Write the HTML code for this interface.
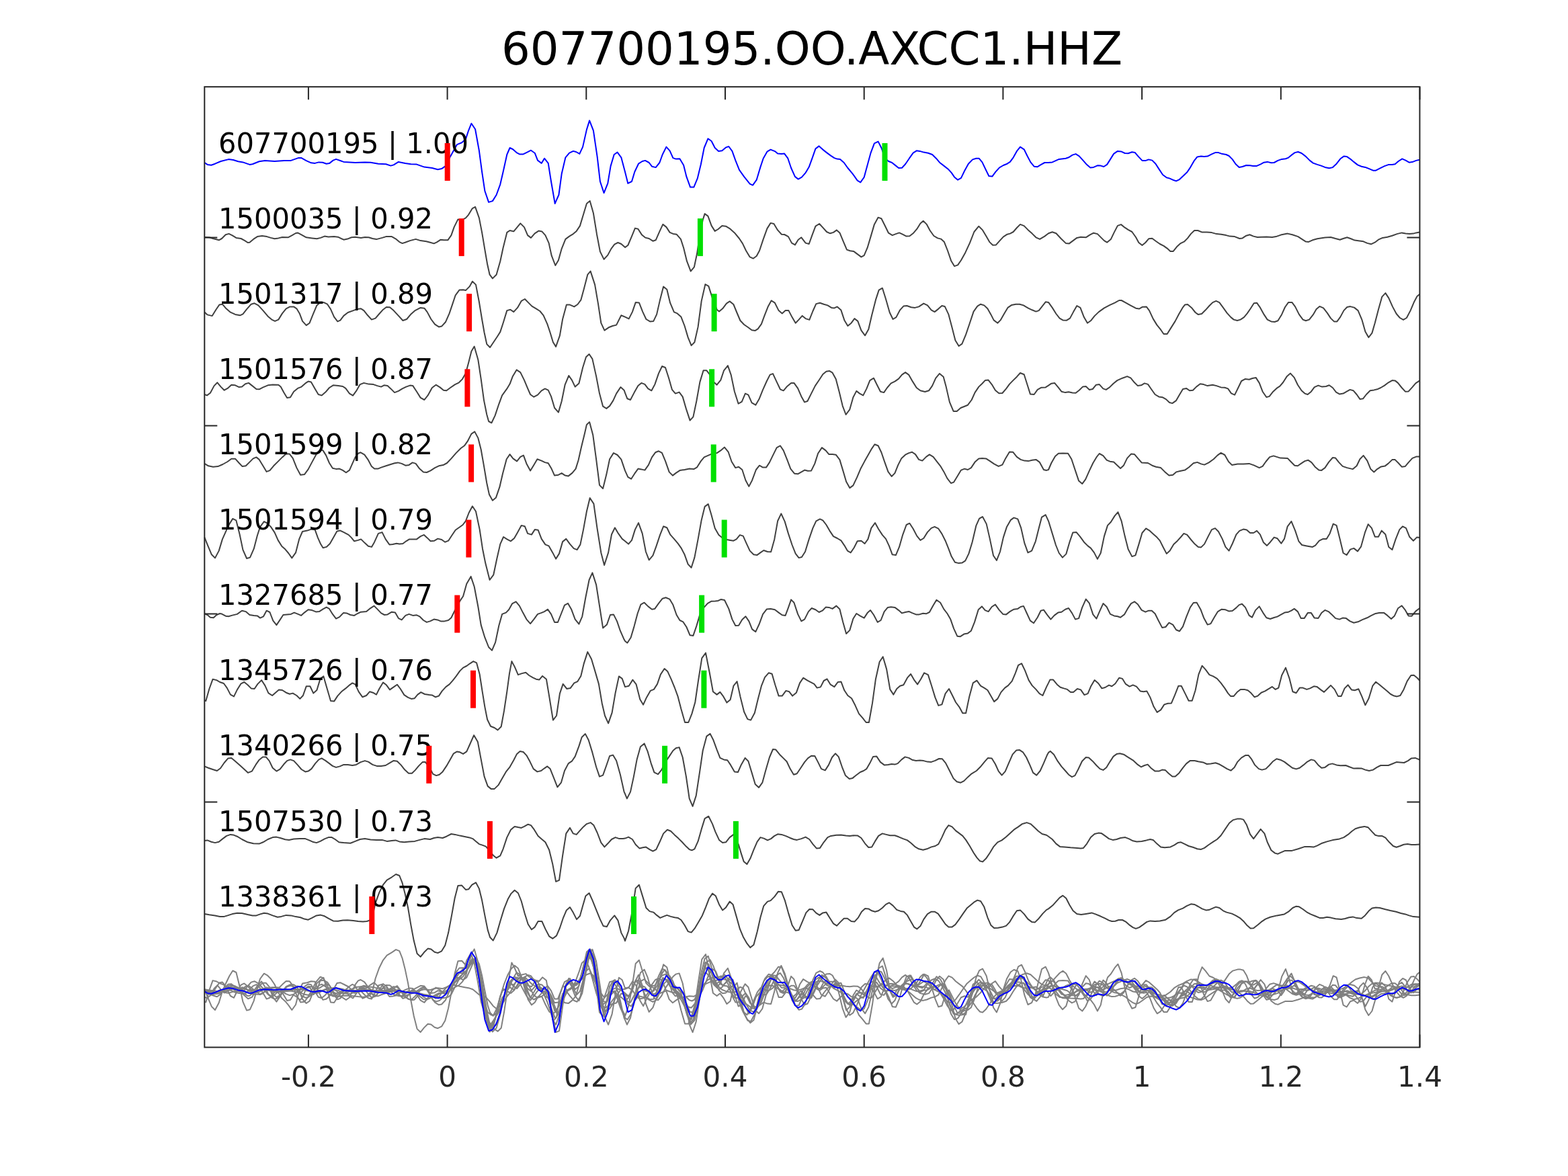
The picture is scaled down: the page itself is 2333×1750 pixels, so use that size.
<!DOCTYPE html>
<html><head><meta charset="utf-8"><style>
html,body{margin:0;padding:0;background:#fff;width:2333px;height:1750px;overflow:hidden}
svg{display:block;font-family:"DejaVu Sans","Liberation Sans",sans-serif}
</style></head><body>
<svg width="2333" height="1750" viewBox="0 0 2333 1750">
<rect width="2333" height="1750" fill="#fff"/>
<text x="1208" y="96.2" text-anchor="middle" font-size="67.3" fill="#000">607700195.OO.AXCC1.HHZ</text>
<polyline points="304.3,1474.0 311.4,1474.3 317.1,1476.0 325.7,1478.3 330.0,1476.0 335.7,1470.3 340.6,1468.9 345.7,1471.4 351.4,1474.9 358.6,1476.0 364.3,1479.1 368.6,1482.0 371.4,1481.7 377.1,1476.9 382.9,1473.1 390.0,1472.0 397.1,1473.1 402.9,1474.9 408.6,1476.3 414.3,1475.4 420.0,1474.0 428.6,1474.3 434.3,1471.4 440.0,1468.0 442.9,1467.4 448.6,1470.3 455.7,1474.3 464.3,1475.4 471.4,1476.3 477.1,1474.9 482.9,1472.6 488.6,1473.4 497.1,1473.1 502.9,1473.7 511.4,1477.7 517.1,1476.6 522.9,1474.3 528.6,1473.7 537.1,1474.9 542.9,1474.0 548.6,1474.3 554.3,1476.0 560.0,1477.1 568.6,1474.9 574.3,1473.1 582.9,1473.1 588.6,1476.3 594.3,1481.1 598.6,1483.1 602.9,1481.7 610.0,1479.1 618.6,1476.9 625.7,1479.1 634.3,1480.3 640.0,1481.7 645.7,1483.4 650.0,1481.4 655.7,1477.7 660.6,1478.3 666.3,1478.3 671.4,1471.1 675.7,1458.9 681.4,1447.4 687.1,1448.3 692.9,1445.4 697.1,1440.6 702.9,1431.1 707.1,1428.9 712.9,1445.4 717.1,1466.9 721.4,1492.6 725.1,1514.0 728.6,1529.7 732.9,1535.4 738.6,1529.7 744.3,1509.7 748.6,1489.7 754.3,1466.9 758.6,1464.0 764.3,1465.4 769.1,1459.7 774.3,1453.4 780.0,1459.1 785.1,1471.1 790.0,1474.9 795.7,1468.3 801.4,1464.6 806.3,1465.4 811.4,1471.1 816.6,1482.6 820.6,1501.1 826.3,1516.0 830.9,1508.3 835.7,1491.1 841.4,1476.9 847.1,1472.6 852.9,1469.1 857.7,1464.9 862.9,1457.1 868.6,1438.3 872.9,1424.0 877.7,1420.0 882.9,1438.3 888.0,1469.7 892.9,1495.4 898.6,1506.9 904.3,1500.6 909.4,1491.1 914.3,1484.6 919.4,1482.0 924.3,1484.0 930.0,1489.1 934.3,1486.0 940.0,1472.6 944.9,1460.6 949.4,1461.7 955.1,1470.6 960.0,1474.6 965.7,1476.0 971.4,1479.7 975.7,1478.3 981.4,1465.4 986.3,1454.9 991.4,1458.9 996.6,1466.9 1001.4,1468.9 1006.6,1469.7 1012.9,1476.9 1017.1,1489.7 1022.0,1509.7 1027.7,1524.6 1032.9,1518.3 1037.1,1498.3 1041.4,1469.7 1045.7,1448.3 1048.6,1439.1 1053.4,1442.6 1058.6,1456.9 1063.7,1464.9 1068.6,1462.0 1074.3,1457.1 1080.0,1457.7 1085.7,1461.1 1092.9,1467.4 1100.0,1476.0 1104.9,1483.4 1110.0,1494.0 1115.7,1503.4 1120.6,1505.7 1125.7,1502.0 1130.0,1494.0 1135.7,1476.9 1141.4,1461.1 1146.6,1452.9 1151.4,1454.0 1157.1,1463.4 1162.9,1469.7 1167.1,1470.0 1172.9,1473.1 1178.0,1482.6 1182.9,1485.4 1187.7,1477.7 1192.3,1474.3 1198.6,1482.6 1203.7,1484.0 1208.6,1470.3 1213.4,1457.7 1219.1,1454.0 1224.3,1459.7 1230.0,1466.0 1235.1,1468.3 1240.0,1466.9 1244.9,1463.4 1249.4,1467.4 1255.1,1481.1 1260.0,1492.6 1264.9,1494.3 1270.0,1494.9 1275.7,1499.1 1281.4,1503.4 1285.7,1501.1 1290.6,1489.7 1295.7,1472.6 1300.9,1454.9 1306.6,1444.6 1311.4,1446.3 1316.3,1456.0 1322.0,1467.7 1327.7,1471.1 1332.9,1469.1 1338.0,1467.4 1342.9,1469.7 1348.6,1472.6 1353.4,1472.3 1358.6,1468.3 1364.3,1461.7 1369.4,1453.4 1373.7,1449.7 1378.6,1454.6 1383.7,1464.0 1389.4,1472.0 1395.1,1475.4 1400.0,1476.6 1404.9,1481.1 1410.0,1494.0 1415.1,1508.9 1420.0,1517.1 1425.1,1515.4 1430.0,1508.3 1436.3,1496.9 1442.9,1482.6 1449.4,1466.0 1456.3,1457.7 1462.0,1463.4 1467.1,1472.0 1472.3,1481.1 1477.1,1485.7 1482.0,1485.4 1487.1,1479.7 1492.9,1473.4 1498.6,1469.7 1502.9,1468.6 1507.7,1466.0 1512.9,1460.0 1518.0,1454.9 1523.7,1457.1 1529.4,1462.9 1535.7,1468.6 1541.4,1474.3 1547.1,1476.9 1554.3,1472.6 1560.0,1468.3 1565.7,1466.3 1571.4,1468.3 1578.6,1476.0 1585.7,1482.9 1590.9,1483.4 1596.6,1479.1 1602.3,1474.9 1608.0,1473.7 1615.7,1474.3 1621.4,1470.6 1627.1,1467.7 1632.9,1469.1 1638.6,1474.9 1642.9,1479.1 1647.1,1481.7 1652.9,1476.9 1657.7,1466.9 1662.9,1456.9 1668.0,1455.1 1673.7,1459.7 1678.6,1462.9 1684.3,1466.0 1690.0,1474.0 1694.3,1482.0 1699.4,1486.0 1704.3,1482.0 1709.1,1476.3 1714.3,1475.7 1720.0,1480.0 1725.7,1484.0 1731.4,1486.9 1736.6,1490.6 1741.4,1494.9 1745.7,1494.9 1750.9,1488.3 1756.6,1483.1 1762.3,1480.3 1767.1,1475.4 1772.0,1468.9 1777.1,1464.0 1782.3,1464.0 1788.6,1466.6 1795.7,1466.6 1802.9,1467.1 1810.0,1469.1 1817.1,1469.7 1824.3,1471.1 1830.0,1472.6 1837.1,1473.1 1844.3,1476.0 1848.6,1475.4 1854.3,1471.7 1859.4,1470.3 1865.1,1472.6 1870.9,1474.0 1877.1,1473.7 1884.3,1473.4 1892.9,1474.0 1898.6,1473.1 1905.7,1470.6 1915.7,1468.6 1922.9,1470.3 1931.4,1473.1 1937.1,1476.9 1942.9,1480.6 1947.1,1480.9 1952.9,1478.3 1960.0,1476.3 1971.4,1474.6 1980.0,1474.0 1987.1,1476.0 1993.7,1477.7 1998.6,1476.0 2004.3,1474.3 2010.0,1476.3 2015.7,1478.6 2022.9,1479.4 2028.6,1480.3 2034.3,1482.9 2040.0,1484.3 2045.7,1481.7 2050.9,1477.7 2057.1,1474.9 2064.3,1473.7 2071.4,1471.7 2078.6,1469.1 2085.7,1467.4 2091.4,1468.6 2097.1,1469.1 2102.9,1468.6 2107.1,1467.4 2112.3,1466.6" fill="none" stroke="#808080" stroke-width="2" stroke-linejoin="round"/>
<polyline points="304.3,1473.3 308.6,1477.3 315.7,1479.0 321.4,1469.6 326.3,1462.5 330.9,1461.6 336.6,1468.2 342.9,1473.6 350.0,1476.8 357.1,1478.2 361.4,1476.2 367.1,1469.0 373.7,1461.6 378.6,1460.2 384.3,1463.3 391.4,1471.0 398.6,1479.6 404.3,1484.5 409.1,1486.8 414.3,1484.5 420.0,1475.3 425.7,1468.2 431.4,1465.3 437.1,1465.3 441.4,1468.2 445.7,1475.3 450.0,1486.8 455.7,1493.0 460.6,1489.6 465.7,1476.8 471.4,1463.3 475.7,1459.6 481.4,1458.8 487.1,1461.6 492.0,1469.0 497.1,1480.5 502.3,1487.3 506.3,1485.6 511.4,1478.8 517.7,1473.9 525.7,1471.0 531.4,1468.8 537.1,1468.2 541.4,1471.0 547.1,1478.2 552.9,1484.5 558.6,1482.5 564.3,1475.9 570.0,1469.6 574.9,1465.9 580.0,1466.2 585.7,1471.0 592.9,1478.8 599.4,1485.9 605.1,1483.9 610.9,1477.0 617.1,1471.3 625.7,1466.8 631.4,1467.6 635.7,1473.3 641.4,1483.9 647.1,1491.6 652.9,1495.3 657.1,1494.5 662.9,1488.2 668.6,1475.3 672.9,1462.5 677.7,1448.2 683.4,1440.5 689.1,1440.2 692.9,1441.0 698.6,1435.3 702.9,1427.6 708.0,1432.5 712.9,1458.2 717.1,1483.9 720.6,1503.9 724.3,1521.0 729.1,1525.9 734.3,1518.2 740.0,1509.6 744.3,1502.8 748.6,1489.6 754.3,1471.0 759.4,1469.6 764.3,1473.0 770.0,1466.8 775.7,1456.8 780.9,1453.9 785.7,1458.8 791.4,1464.5 797.7,1468.2 803.4,1471.9 808.6,1478.2 814.3,1491.0 818.6,1503.9 822.9,1518.2 827.1,1524.8 832.9,1508.2 837.1,1483.9 842.9,1462.5 848.0,1462.5 854.3,1465.3 859.4,1461.9 864.3,1455.3 868.6,1439.6 874.3,1417.6 878.6,1412.5 885.1,1432.5 890.0,1461.0 894.3,1489.6 899.4,1500.5 905.7,1496.2 911.4,1493.9 917.1,1492.5 924.3,1478.2 930.0,1480.5 935.7,1483.3 940.9,1473.0 945.7,1459.0 950.9,1459.3 956.3,1473.0 961.4,1483.9 967.1,1487.3 972.3,1486.8 977.1,1476.8 982.0,1455.3 987.1,1435.3 992.3,1439.6 997.1,1459.6 1002.9,1473.3 1007.7,1475.3 1013.4,1480.5 1018.6,1493.9 1023.7,1511.0 1028.6,1523.0 1033.4,1518.2 1038.6,1495.3 1043.7,1456.8 1049.4,1431.9 1054.3,1434.8 1060.0,1452.5 1066.6,1469.6 1070.0,1472.5 1075.1,1468.2 1080.9,1460.5 1085.7,1457.3 1091.4,1461.9 1096.3,1473.9 1101.4,1485.9 1107.1,1491.9 1112.9,1495.9 1118.6,1500.2 1123.4,1501.0 1127.7,1498.2 1132.9,1491.0 1137.1,1479.6 1142.9,1464.8 1147.7,1456.2 1152.9,1459.6 1158.6,1471.0 1163.7,1475.3 1168.6,1471.0 1173.4,1471.0 1178.6,1481.0 1183.7,1489.6 1188.6,1484.5 1193.7,1478.8 1198.6,1483.0 1204.3,1484.8 1209.4,1471.9 1214.3,1461.0 1220.0,1459.6 1225.7,1461.6 1231.4,1463.3 1237.1,1466.8 1241.4,1467.3 1245.7,1465.3 1251.4,1470.5 1256.3,1485.3 1261.4,1493.9 1266.6,1489.6 1271.4,1483.0 1276.3,1486.8 1281.4,1500.5 1287.1,1508.2 1292.3,1498.8 1297.1,1478.2 1302.9,1455.3 1307.7,1440.5 1312.9,1437.6 1318.0,1453.9 1323.7,1473.9 1328.6,1483.9 1333.4,1481.0 1339.1,1470.2 1344.3,1464.5 1349.4,1463.9 1355.7,1466.2 1361.4,1466.8 1367.1,1465.3 1374.3,1460.5 1380.0,1463.3 1385.7,1470.2 1390.6,1473.0 1396.3,1468.5 1401.4,1463.9 1405.7,1464.8 1411.4,1476.8 1416.3,1495.3 1421.4,1515.3 1426.6,1523.9 1431.4,1520.5 1437.1,1506.8 1442.9,1489.6 1448.6,1472.5 1454.3,1464.5 1459.1,1461.6 1464.3,1463.3 1469.4,1468.2 1474.3,1476.8 1478.6,1485.3 1484.3,1489.6 1488.6,1485.3 1494.3,1475.3 1499.4,1466.8 1504.9,1463.0 1511.4,1461.6 1517.1,1461.6 1522.9,1463.3 1530.0,1467.6 1535.7,1470.2 1541.4,1472.5 1545.7,1471.0 1550.6,1464.8 1555.7,1458.2 1560.0,1458.8 1565.7,1466.8 1571.4,1475.9 1576.6,1482.5 1581.4,1485.3 1587.1,1485.6 1592.0,1482.5 1597.1,1473.0 1602.3,1463.9 1607.4,1466.8 1612.9,1481.0 1618.0,1489.6 1622.9,1486.2 1628.6,1479.0 1634.9,1473.0 1642.9,1467.3 1651.4,1462.8 1658.6,1459.6 1665.1,1455.9 1668.6,1455.9 1674.3,1459.0 1681.4,1463.0 1690.0,1467.6 1694.9,1468.5 1700.0,1465.6 1705.7,1465.3 1710.0,1471.0 1715.7,1483.3 1721.4,1492.5 1727.1,1499.6 1731.4,1505.9 1736.6,1505.9 1742.3,1496.8 1748.6,1486.8 1754.3,1475.9 1760.0,1466.2 1762.9,1462.5 1767.1,1461.9 1772.9,1466.8 1778.6,1473.9 1782.9,1477.0 1788.0,1475.9 1793.7,1470.2 1799.4,1463.9 1804.3,1459.0 1809.4,1456.8 1814.3,1459.0 1820.0,1466.8 1825.7,1474.8 1831.4,1481.0 1835.7,1484.5 1840.9,1485.9 1845.7,1484.5 1850.9,1481.0 1855.7,1475.3 1860.6,1468.2 1865.7,1460.2 1870.0,1459.6 1875.1,1466.8 1880.6,1476.8 1885.7,1484.5 1891.4,1487.3 1896.6,1487.9 1901.4,1486.2 1907.1,1476.8 1912.0,1465.9 1917.1,1458.8 1922.3,1458.8 1927.1,1465.3 1932.9,1476.8 1938.6,1484.5 1942.9,1486.2 1948.0,1484.5 1953.7,1477.3 1958.6,1469.0 1963.4,1464.8 1969.1,1467.3 1974.9,1474.8 1980.0,1482.5 1984.9,1487.3 1989.4,1487.3 1994.3,1480.5 1999.4,1471.0 2004.3,1465.9 2009.1,1465.0 2014.9,1466.5 2020.6,1471.0 2026.3,1484.5 2031.4,1502.5 2036.3,1511.0 2041.4,1504.5 2045.7,1489.6 2050.9,1469.6 2056.3,1450.5 2061.4,1445.0 2066.3,1452.5 2072.0,1465.3 2077.7,1475.9 2082.9,1481.9 2088.0,1484.8 2092.9,1481.9 2098.6,1471.0 2104.3,1457.6 2108.6,1449.6 2112.3,1446.8" fill="none" stroke="#808080" stroke-width="2" stroke-linejoin="round"/>
<polyline points="304.3,1483.8 308.0,1485.2 312.9,1481.5 318.6,1470.9 323.4,1466.1 328.6,1472.4 333.7,1477.5 338.6,1474.7 344.3,1469.5 350.0,1470.1 355.7,1472.9 360.0,1472.4 365.1,1468.1 370.0,1466.7 375.7,1471.2 381.4,1475.8 385.7,1476.1 391.4,1473.2 398.6,1470.1 405.7,1469.2 414.3,1469.5 417.7,1472.4 422.3,1480.9 427.1,1488.9 432.0,1488.1 437.1,1479.5 442.9,1474.7 448.6,1472.4 454.3,1467.2 458.6,1464.4 462.9,1465.2 468.6,1475.2 473.7,1483.8 478.6,1485.2 484.3,1480.4 490.0,1473.8 495.7,1470.1 503.4,1470.7 510.0,1471.8 514.3,1474.7 520.0,1482.4 525.1,1485.5 530.0,1478.7 535.7,1468.9 541.4,1466.7 548.6,1468.4 555.7,1468.9 561.4,1470.9 567.1,1472.4 571.4,1470.1 576.6,1470.7 581.4,1475.2 587.1,1480.9 592.9,1478.7 598.6,1475.2 604.3,1472.4 610.0,1470.4 614.3,1470.9 620.0,1479.5 625.7,1488.7 631.4,1491.8 636.6,1485.2 642.9,1473.8 648.6,1469.5 654.3,1472.9 660.0,1477.5 664.3,1478.1 670.0,1473.8 677.1,1468.9 682.9,1466.1 688.0,1460.9 692.9,1452.4 697.1,1436.7 701.4,1419.5 705.7,1412.4 711.4,1432.4 715.7,1460.9 720.0,1492.4 724.3,1513.8 727.1,1523.8 731.4,1526.1 736.6,1515.2 742.3,1498.1 747.1,1485.2 754.3,1475.2 758.6,1468.1 762.9,1456.7 768.6,1447.2 774.3,1450.9 780.0,1462.4 785.1,1474.7 789.1,1483.8 794.3,1487.5 800.0,1484.4 805.7,1478.1 810.9,1475.2 815.7,1477.5 820.0,1486.7 825.1,1503.8 830.9,1510.4 835.7,1493.8 840.6,1469.5 846.3,1455.8 850.9,1462.4 855.7,1472.4 861.4,1467.2 867.1,1443.8 872.0,1428.1 876.6,1423.8 881.4,1430.9 887.1,1456.7 892.0,1482.4 897.1,1501.5 902.3,1504.7 907.1,1500.9 912.3,1492.9 917.1,1482.4 923.4,1472.9 928.6,1477.5 930.0,1481.5 933.4,1490.1 938.0,1491.8 943.7,1480.9 949.4,1470.9 954.3,1466.7 959.4,1468.7 964.3,1475.2 969.4,1478.1 974.3,1468.9 980.0,1452.4 985.1,1441.8 990.0,1443.8 995.1,1459.5 1000.0,1476.7 1004.9,1482.4 1010.6,1480.4 1015.7,1487.2 1020.9,1505.2 1026.6,1522.4 1031.4,1517.2 1036.3,1493.8 1041.4,1465.2 1046.6,1448.1 1051.4,1448.1 1055.7,1453.8 1062.0,1465.2 1066.6,1469.5 1072.3,1462.4 1077.1,1448.1 1082.9,1440.9 1087.7,1454.7 1092.9,1479.5 1098.6,1497.5 1103.7,1494.7 1108.9,1482.4 1113.4,1484.4 1118.6,1496.1 1124.3,1499.5 1129.4,1490.9 1135.1,1476.7 1140.9,1463.8 1145.7,1454.4 1150.0,1452.9 1155.7,1465.2 1160.9,1476.1 1165.7,1478.1 1171.4,1471.5 1177.1,1466.7 1181.4,1466.7 1187.1,1474.7 1192.3,1486.7 1197.1,1495.2 1201.4,1493.8 1207.1,1482.4 1212.9,1470.9 1219.1,1461.8 1224.3,1453.8 1229.4,1449.5 1234.3,1448.9 1238.6,1451.5 1243.7,1460.9 1248.6,1479.5 1253.7,1500.9 1258.6,1513.8 1264.3,1506.1 1269.4,1488.1 1274.3,1478.7 1279.1,1482.4 1284.3,1485.2 1289.4,1475.2 1294.3,1462.9 1300.0,1459.5 1304.9,1469.5 1310.0,1479.5 1315.1,1480.9 1320.0,1473.8 1325.7,1467.2 1331.4,1464.4 1337.1,1460.4 1342.0,1454.4 1347.1,1450.9 1352.3,1454.7 1358.0,1464.7 1363.7,1473.8 1369.4,1478.1 1376.3,1479.8 1382.0,1478.1 1387.1,1470.9 1392.3,1459.5 1398.0,1452.7 1403.7,1457.5 1407.7,1472.4 1412.9,1495.2 1418.6,1508.7 1423.7,1508.7 1429.4,1503.8 1435.1,1501.5 1440.0,1499.5 1445.7,1491.8 1450.6,1480.9 1456.3,1472.4 1461.4,1467.5 1465.7,1462.9 1470.6,1462.4 1475.7,1468.9 1480.9,1477.5 1486.3,1482.1 1491.4,1481.8 1497.1,1475.2 1502.0,1468.4 1507.1,1463.2 1512.9,1457.5 1518.0,1451.8 1523.7,1454.1 1528.6,1469.5 1532.9,1483.2 1538.6,1483.8 1543.7,1476.7 1549.4,1473.5 1555.7,1473.2 1560.0,1470.4 1564.3,1467.5 1569.1,1466.7 1574.3,1472.9 1579.4,1479.5 1585.1,1480.9 1590.0,1480.1 1595.7,1481.2 1600.6,1481.5 1605.7,1477.5 1610.9,1472.4 1615.7,1471.8 1620.9,1476.7 1625.7,1475.8 1630.9,1469.5 1635.7,1468.9 1641.4,1475.2 1645.7,1476.7 1650.9,1473.2 1656.6,1467.5 1662.3,1462.9 1670.0,1459.5 1677.1,1456.9 1682.3,1459.2 1688.0,1466.1 1692.9,1470.9 1698.0,1470.1 1702.9,1467.2 1708.0,1468.7 1712.9,1475.8 1718.6,1483.8 1724.3,1487.2 1730.0,1488.1 1734.9,1490.9 1740.0,1495.8 1744.3,1496.9 1750.0,1492.9 1754.9,1484.4 1760.0,1475.8 1765.1,1474.7 1770.0,1478.1 1774.9,1477.5 1780.0,1472.4 1785.7,1468.1 1790.9,1468.9 1796.6,1470.9 1804.3,1469.5 1810.0,1470.9 1816.6,1473.2 1822.3,1473.5 1827.1,1475.2 1832.0,1482.1 1837.1,1484.4 1842.3,1473.8 1847.1,1463.8 1852.9,1460.7 1858.6,1461.5 1863.4,1459.8 1868.6,1458.7 1873.7,1466.7 1878.6,1479.5 1884.3,1487.8 1888.6,1486.7 1894.3,1479.5 1899.4,1474.7 1904.3,1471.5 1909.1,1465.8 1914.9,1456.7 1920.0,1452.4 1925.7,1458.7 1930.9,1469.5 1936.6,1478.1 1941.4,1482.4 1945.7,1483.8 1950.9,1479.5 1955.7,1472.9 1961.4,1470.4 1967.1,1472.4 1972.9,1471.8 1977.7,1470.1 1982.9,1473.8 1988.0,1480.4 1992.9,1483.2 1998.6,1482.4 2003.7,1479.5 2008.6,1476.7 2013.7,1478.1 2018.6,1483.8 2023.4,1490.7 2028.0,1490.1 2032.9,1483.8 2038.6,1478.1 2044.3,1477.2 2049.1,1476.1 2054.3,1473.8 2060.0,1470.4 2065.7,1466.1 2071.4,1462.9 2075.7,1463.2 2080.0,1466.7 2085.7,1473.8 2090.9,1479.5 2095.7,1479.2 2101.4,1472.9 2106.3,1467.2 2112.3,1463.2" fill="none" stroke="#808080" stroke-width="2" stroke-linejoin="round"/>
<polyline points="304.3,1474.6 310.0,1478.0 317.1,1479.4 324.3,1478.8 331.4,1475.7 338.6,1471.7 344.3,1467.4 350.0,1467.4 355.7,1473.7 360.6,1478.8 365.7,1478.0 371.4,1472.3 376.6,1467.1 381.4,1465.1 385.7,1468.6 390.9,1477.1 396.6,1486.6 401.4,1484.8 407.1,1478.0 414.3,1470.8 420.0,1465.1 425.7,1460.0 430.9,1460.3 435.7,1466.6 441.4,1480.8 447.1,1491.4 452.9,1490.8 458.6,1483.1 464.3,1472.3 470.9,1460.3 476.6,1453.7 480.6,1455.1 485.1,1462.3 490.0,1473.7 494.9,1481.4 500.0,1482.6 505.1,1482.3 510.0,1484.6 514.9,1488.0 520.0,1484.3 524.3,1474.6 528.6,1465.1 532.9,1459.4 536.6,1458.0 542.3,1461.4 548.0,1469.4 552.9,1478.8 557.1,1482.3 562.3,1482.3 567.1,1480.3 574.3,1478.0 581.4,1475.7 587.1,1474.0 592.0,1473.1 597.7,1474.6 603.4,1477.4 608.6,1476.6 613.7,1473.1 618.6,1474.6 624.3,1482.3 630.0,1487.1 634.9,1487.7 640.6,1485.1 647.1,1480.8 652.9,1478.0 659.4,1476.8 665.1,1473.7 671.4,1467.1 678.6,1458.8 685.7,1451.7 690.9,1448.0 695.7,1441.4 701.4,1430.3 706.3,1427.1 711.4,1436.6 715.7,1453.7 720.0,1478.0 724.3,1503.7 728.0,1520.8 732.9,1529.4 738.0,1525.1 743.4,1509.4 748.0,1489.4 753.7,1468.0 758.6,1460.8 763.4,1467.1 769.1,1471.1 774.3,1464.6 778.9,1462.3 783.4,1474.6 789.1,1485.1 794.3,1476.6 799.4,1468.0 805.7,1470.3 810.9,1472.8 815.7,1474.0 820.6,1482.3 825.1,1492.3 830.9,1491.4 835.7,1488.8 840.9,1492.3 845.7,1493.1 851.4,1488.6 856.6,1482.3 860.6,1469.4 865.1,1449.4 870.0,1429.4 872.9,1416.6 877.1,1412.8 882.3,1432.3 887.1,1468.0 892.0,1506.6 897.1,1511.7 902.3,1490.8 907.1,1468.0 912.9,1458.8 918.6,1461.7 924.3,1468.3 930.0,1485.1 934.3,1494.6 939.1,1497.4 944.3,1489.4 949.4,1482.3 954.3,1483.1 959.4,1484.3 964.9,1476.6 970.0,1465.1 975.1,1458.0 980.0,1456.0 984.9,1458.6 990.0,1470.8 995.7,1487.1 1000.9,1492.3 1005.7,1488.6 1011.4,1484.8 1018.6,1483.7 1025.7,1482.3 1032.3,1482.8 1037.1,1480.0 1042.9,1470.8 1047.7,1465.1 1053.4,1462.6 1058.6,1460.3 1067.1,1458.6 1072.3,1455.1 1078.0,1450.3 1083.7,1457.4 1088.6,1471.7 1094.3,1480.8 1099.1,1479.4 1104.3,1483.7 1109.4,1499.4 1114.3,1508.6 1119.1,1499.4 1124.9,1483.7 1130.0,1477.4 1135.1,1480.3 1140.0,1480.3 1144.9,1472.8 1150.0,1462.3 1155.7,1450.8 1160.9,1448.0 1165.7,1455.1 1171.4,1469.4 1176.3,1482.3 1182.0,1489.4 1187.1,1490.0 1192.3,1487.1 1197.1,1484.3 1202.0,1485.4 1207.1,1485.1 1212.3,1474.6 1217.1,1459.4 1222.9,1450.8 1228.6,1455.1 1233.4,1460.8 1238.6,1460.8 1243.7,1461.4 1249.4,1468.8 1254.3,1485.1 1259.1,1501.4 1264.3,1510.8 1269.4,1507.1 1275.1,1495.1 1280.9,1481.4 1286.6,1470.8 1292.3,1460.8 1297.1,1452.3 1301.4,1446.0 1306.6,1448.0 1311.4,1458.0 1316.3,1472.3 1321.4,1486.6 1326.6,1493.7 1331.4,1488.8 1336.3,1476.6 1341.4,1466.6 1347.1,1461.4 1352.3,1458.8 1357.1,1457.4 1362.0,1460.8 1367.1,1468.6 1372.3,1470.3 1378.0,1464.6 1382.9,1461.1 1388.6,1464.6 1393.4,1470.8 1399.1,1478.0 1404.3,1486.6 1409.4,1496.6 1414.9,1503.7 1419.1,1502.3 1424.3,1493.7 1430.0,1484.3 1435.1,1482.3 1440.0,1483.7 1444.9,1480.8 1450.6,1472.3 1456.3,1467.1 1461.4,1466.6 1467.1,1467.1 1472.9,1470.8 1479.1,1475.1 1485.7,1478.6 1491.4,1476.3 1496.3,1466.6 1502.0,1457.1 1507.1,1457.4 1512.9,1464.6 1518.6,1468.6 1524.3,1470.3 1530.0,1470.8 1535.7,1469.4 1541.4,1468.6 1546.6,1472.3 1552.9,1483.7 1557.1,1484.6 1560.0,1483.7 1564.3,1473.7 1570.0,1463.7 1574.9,1459.4 1581.4,1459.1 1589.1,1459.4 1594.3,1468.0 1600.0,1485.1 1605.1,1500.3 1610.3,1504.6 1615.1,1498.0 1620.9,1485.1 1626.3,1473.7 1631.4,1465.1 1635.7,1459.7 1641.4,1462.8 1646.6,1469.4 1651.4,1471.4 1657.1,1472.3 1662.3,1477.1 1667.1,1481.7 1672.0,1477.1 1677.1,1466.6 1682.9,1460.3 1688.0,1460.8 1692.9,1466.6 1698.6,1473.1 1708.0,1473.7 1714.3,1477.4 1720.0,1479.4 1727.1,1480.8 1732.9,1486.6 1739.4,1492.3 1745.1,1491.4 1750.0,1487.1 1755.7,1485.7 1762.9,1484.3 1769.1,1480.0 1775.7,1474.0 1781.4,1472.6 1787.1,1475.1 1792.0,1476.3 1798.6,1473.1 1805.7,1468.0 1811.4,1462.3 1816.6,1458.6 1822.3,1461.7 1828.0,1471.7 1832.9,1476.6 1841.4,1475.1 1850.0,1475.1 1858.6,1474.6 1865.7,1477.1 1873.7,1480.8 1878.6,1478.6 1883.4,1471.7 1889.1,1464.8 1894.9,1463.1 1905.1,1466.3 1915.7,1466.6 1920.6,1471.7 1926.3,1477.4 1930.9,1478.0 1935.7,1474.6 1941.4,1470.8 1946.3,1469.4 1951.4,1472.8 1956.6,1479.4 1962.3,1484.3 1966.3,1484.6 1971.4,1480.8 1977.1,1472.3 1982.9,1465.7 1987.1,1466.3 1992.0,1472.6 1997.7,1478.6 2004.3,1480.8 2012.9,1482.8 2018.6,1478.0 2023.4,1468.0 2028.6,1462.6 2034.3,1470.3 2039.4,1482.8 2044.3,1487.1 2049.1,1482.8 2054.9,1479.1 2060.6,1478.3 2065.7,1474.3 2071.4,1468.8 2075.7,1468.8 2080.6,1473.7 2085.7,1479.4 2090.9,1478.6 2095.7,1472.8 2101.4,1466.6 2107.1,1464.3 2112.3,1464.3" fill="none" stroke="#808080" stroke-width="2" stroke-linejoin="round"/>
<polyline points="304.3,1472.2 309.1,1484.2 314.9,1497.9 320.0,1503.0 325.7,1492.2 330.9,1475.0 336.6,1462.2 341.4,1452.2 346.3,1444.5 351.4,1447.0 356.6,1467.9 361.4,1490.7 367.1,1503.6 372.0,1502.2 377.7,1489.3 382.9,1469.3 387.1,1456.5 392.9,1448.7 397.7,1451.3 402.9,1456.5 408.6,1465.0 413.7,1476.5 419.4,1485.6 424.3,1489.9 429.1,1495.6 434.3,1503.0 440.0,1495.0 445.1,1475.0 450.0,1463.6 457.1,1462.2 462.9,1460.2 468.6,1460.7 472.9,1472.7 477.1,1482.2 480.6,1487.9 485.7,1486.5 490.9,1481.6 496.6,1471.6 501.4,1463.0 506.3,1462.2 512.0,1465.0 518.6,1468.5 522.9,1472.7 527.1,1477.9 532.9,1476.5 537.1,1475.0 542.9,1480.7 548.0,1485.3 552.9,1486.5 557.1,1479.3 562.9,1466.5 568.6,1464.7 573.7,1475.0 579.4,1483.0 584.3,1482.5 590.0,1481.3 594.3,1482.2 599.4,1481.6 604.3,1477.9 609.1,1475.0 614.3,1475.0 620.0,1475.0 625.7,1470.7 630.9,1468.5 635.7,1473.0 640.6,1477.9 646.3,1477.3 651.4,1474.2 657.1,1475.6 662.3,1479.3 667.1,1477.3 672.3,1469.3 677.7,1461.3 683.4,1457.3 688.6,1453.6 692.9,1447.9 697.7,1435.6 702.9,1425.9 708.0,1433.6 713.7,1460.7 718.0,1489.3 722.3,1510.7 728.6,1535.6 734.3,1527.9 739.4,1503.6 744.3,1482.2 749.1,1471.6 754.3,1475.0 760.0,1477.9 765.1,1473.6 770.0,1465.0 775.7,1454.5 780.9,1455.9 785.1,1466.5 790.9,1468.2 795.7,1460.7 800.6,1461.3 805.7,1474.5 811.4,1483.0 816.6,1485.0 822.3,1495.0 827.1,1504.2 832.0,1496.5 837.1,1478.7 842.3,1474.5 848.0,1482.2 853.7,1488.7 858.6,1490.7 863.4,1483.0 868.0,1460.7 872.9,1433.6 877.7,1413.6 883.4,1422.2 888.6,1459.3 894.3,1495.0 899.1,1513.6 905.1,1495.0 910.0,1467.9 914.9,1457.9 920.0,1466.5 925.7,1474.5 930.0,1477.9 935.1,1482.2 940.0,1476.5 944.9,1460.7 950.0,1450.7 955.7,1466.5 960.9,1493.6 965.7,1505.9 971.4,1499.3 976.6,1485.0 982.0,1468.7 987.1,1455.9 992.3,1457.9 997.1,1467.9 1002.9,1474.5 1008.6,1481.3 1013.4,1487.9 1018.6,1497.9 1023.7,1512.2 1028.6,1517.3 1033.4,1502.2 1038.6,1475.0 1043.7,1446.5 1048.6,1426.5 1053.7,1422.7 1058.6,1439.3 1063.7,1458.5 1069.4,1468.5 1074.3,1472.7 1081.4,1475.6 1086.6,1476.5 1091.4,1477.3 1095.7,1475.0 1100.9,1468.7 1105.7,1470.2 1110.6,1481.3 1115.7,1492.2 1121.4,1497.9 1126.6,1498.5 1131.4,1495.0 1136.3,1491.6 1142.0,1493.6 1147.1,1493.9 1152.3,1475.0 1157.1,1447.9 1162.3,1437.0 1167.7,1448.7 1172.9,1466.5 1178.6,1483.6 1183.7,1496.5 1188.6,1502.7 1192.9,1501.6 1198.0,1493.6 1203.7,1475.0 1209.4,1458.5 1214.3,1447.9 1220.0,1445.0 1224.3,1447.0 1229.4,1453.6 1234.3,1462.2 1240.0,1470.7 1245.7,1473.6 1251.4,1477.0 1256.3,1484.2 1260.9,1492.2 1265.7,1495.0 1270.6,1487.9 1275.7,1477.9 1281.4,1477.3 1286.6,1481.6 1291.4,1475.0 1296.3,1458.5 1302.0,1450.7 1307.1,1459.9 1312.9,1468.7 1318.0,1474.5 1322.9,1485.0 1327.7,1497.9 1332.9,1498.7 1338.0,1486.5 1342.9,1469.3 1348.6,1453.6 1353.4,1451.3 1358.6,1459.3 1364.3,1470.2 1369.4,1476.5 1374.3,1473.6 1380.0,1464.5 1385.7,1458.5 1390.6,1456.5 1396.3,1459.3 1401.4,1467.0 1406.6,1477.3 1411.4,1489.3 1415.7,1500.7 1420.9,1509.3 1426.6,1510.7 1431.4,1510.2 1436.3,1507.0 1441.4,1496.5 1446.6,1479.3 1452.3,1455.0 1457.1,1444.2 1462.0,1441.6 1467.7,1452.2 1472.9,1475.0 1478.0,1499.3 1482.9,1506.5 1488.0,1493.6 1492.9,1472.2 1498.0,1456.5 1503.7,1446.5 1508.6,1443.0 1514.3,1445.0 1519.1,1457.9 1524.3,1480.7 1529.4,1495.0 1535.1,1492.2 1540.9,1477.9 1545.7,1458.5 1550.0,1442.2 1555.7,1438.7 1560.0,1447.9 1565.7,1466.5 1570.9,1483.6 1575.7,1495.6 1580.9,1502.2 1586.3,1497.0 1591.4,1479.3 1596.3,1465.0 1601.4,1464.5 1607.1,1471.3 1612.9,1479.3 1618.6,1485.0 1622.9,1488.2 1628.0,1495.0 1632.9,1504.5 1637.7,1495.6 1642.9,1470.7 1648.0,1454.5 1652.9,1449.3 1658.6,1440.2 1663.4,1434.7 1668.6,1447.9 1673.7,1470.7 1678.6,1489.9 1684.3,1500.7 1689.4,1499.0 1694.3,1483.0 1699.4,1465.6 1705.1,1459.0 1710.0,1461.9 1715.7,1467.0 1721.4,1472.2 1725.7,1477.0 1730.9,1487.3 1735.7,1496.5 1740.6,1492.2 1746.3,1482.7 1752.0,1477.3 1757.1,1471.6 1761.4,1466.5 1766.3,1468.5 1772.0,1475.6 1777.7,1482.2 1782.9,1486.5 1787.1,1487.0 1792.0,1482.2 1797.7,1470.7 1802.9,1460.7 1808.0,1458.7 1812.9,1463.6 1818.6,1474.5 1823.4,1486.5 1828.6,1492.2 1833.7,1481.6 1839.4,1467.9 1844.3,1462.5 1850.0,1460.2 1854.9,1461.0 1860.0,1465.6 1865.1,1465.6 1870.0,1462.5 1874.9,1467.9 1880.0,1479.9 1885.1,1484.5 1890.0,1479.3 1895.7,1472.2 1900.6,1473.9 1906.3,1481.3 1910.9,1474.5 1915.7,1455.9 1921.4,1448.5 1927.1,1462.2 1932.3,1477.9 1937.1,1483.6 1944.3,1485.0 1952.9,1486.5 1957.1,1484.2 1962.9,1477.3 1968.6,1474.5 1973.7,1474.5 1978.6,1466.5 1983.7,1452.2 1988.6,1454.5 1993.7,1475.0 1998.6,1495.6 2003.7,1498.5 2009.1,1490.2 2014.3,1488.5 2020.0,1493.0 2025.1,1485.9 2030.9,1465.0 2035.7,1452.7 2040.9,1458.5 2045.7,1471.3 2050.9,1471.3 2055.7,1462.2 2061.4,1467.9 2066.3,1486.5 2071.4,1490.7 2076.6,1475.0 2082.3,1460.7 2087.1,1455.9 2092.0,1458.5 2097.1,1471.3 2102.9,1477.3 2108.0,1472.2 2112.3,1472.7" fill="none" stroke="#808080" stroke-width="2" stroke-linejoin="round"/>
<polyline points="304.3,1473.8 308.6,1475.5 312.9,1479.2 317.7,1479.8 322.3,1475.5 327.1,1473.5 330.0,1474.1 335.7,1477.2 340.0,1477.8 345.7,1476.1 352.9,1474.4 360.0,1469.2 365.7,1470.6 371.4,1475.5 377.7,1476.4 382.9,1476.9 387.1,1480.1 392.0,1477.8 396.6,1469.2 401.4,1471.5 406.3,1484.1 411.4,1490.6 416.6,1482.9 421.4,1475.5 427.1,1474.9 432.9,1474.4 437.7,1472.1 442.9,1474.1 448.0,1476.4 452.9,1472.1 458.6,1467.8 464.3,1468.6 470.0,1470.9 474.9,1470.6 480.6,1466.9 485.7,1464.1 490.0,1466.4 494.9,1474.4 500.0,1481.2 505.1,1478.6 510.9,1472.6 515.7,1472.9 521.4,1475.5 527.1,1476.4 532.0,1473.5 537.1,1471.2 545.1,1470.6 550.0,1466.4 556.6,1462.1 561.4,1466.9 567.1,1472.9 572.0,1475.5 576.6,1474.9 582.9,1471.2 588.0,1472.1 592.9,1480.6 597.7,1482.9 603.4,1476.4 608.6,1474.4 614.3,1476.4 620.0,1475.8 624.3,1477.8 630.0,1483.5 634.9,1486.4 640.0,1484.9 645.7,1482.1 650.9,1482.9 655.7,1484.9 661.4,1484.9 667.1,1483.5 671.4,1479.8 676.6,1469.2 684.3,1454.9 689.1,1447.8 694.3,1429.2 700.6,1418.4 705.7,1433.5 711.4,1463.5 715.7,1490.6 721.4,1509.2 727.1,1523.5 732.0,1528.4 737.1,1516.4 742.3,1491.5 747.1,1474.4 752.9,1472.1 757.1,1467.8 762.3,1458.6 767.7,1455.8 772.9,1462.1 778.0,1472.1 783.4,1482.1 789.1,1488.6 794.3,1482.1 800.0,1474.4 805.1,1472.6 810.0,1470.6 814.9,1467.2 820.0,1474.4 825.1,1486.4 830.0,1486.4 835.1,1473.5 840.0,1461.2 845.1,1458.4 850.0,1466.9 855.7,1482.1 861.4,1489.2 866.3,1477.8 871.4,1449.2 876.6,1423.5 881.4,1412.9 887.1,1430.6 892.9,1467.8 897.1,1494.9 902.9,1490.1 908.0,1475.5 912.9,1474.9 918.0,1484.9 922.9,1499.2 928.6,1512.1 930.0,1514.4 933.4,1517.2 938.6,1509.2 943.7,1492.1 948.6,1473.5 953.4,1460.1 958.6,1457.2 964.3,1462.9 970.0,1467.2 974.3,1466.4 980.0,1458.4 985.7,1451.2 990.6,1449.8 996.3,1452.1 1001.4,1460.6 1006.6,1475.5 1011.4,1483.5 1016.3,1485.8 1021.4,1493.5 1026.6,1505.8 1031.4,1506.4 1036.3,1492.1 1041.4,1474.9 1047.1,1464.9 1052.9,1458.4 1058.6,1455.2 1064.3,1454.9 1068.6,1454.4 1072.9,1452.4 1078.0,1453.5 1084.3,1466.4 1089.4,1482.1 1094.3,1491.5 1099.1,1491.2 1104.3,1482.6 1109.4,1477.8 1114.3,1484.9 1119.1,1496.9 1124.3,1500.6 1129.4,1489.8 1135.1,1474.4 1140.9,1466.9 1146.6,1466.4 1152.9,1467.8 1158.6,1472.1 1163.7,1475.8 1168.6,1476.4 1172.9,1464.9 1177.1,1452.9 1181.4,1457.2 1187.1,1474.4 1192.3,1484.9 1197.1,1482.1 1202.9,1470.6 1207.7,1465.5 1213.4,1467.8 1218.6,1471.5 1223.7,1469.2 1228.6,1464.1 1233.4,1464.4 1238.6,1466.4 1244.3,1462.1 1249.4,1466.9 1254.3,1486.4 1259.1,1503.5 1264.3,1498.4 1269.4,1481.2 1274.3,1473.5 1280.0,1477.2 1285.7,1480.1 1290.6,1472.6 1295.1,1468.6 1300.0,1475.5 1305.7,1486.4 1310.6,1483.5 1315.7,1470.6 1320.9,1464.4 1325.7,1463.8 1331.4,1464.4 1337.1,1468.6 1342.0,1472.9 1347.1,1471.5 1352.3,1470.4 1357.1,1472.6 1362.9,1474.9 1367.7,1474.9 1373.4,1473.2 1378.0,1473.8 1382.9,1471.5 1388.6,1461.2 1393.4,1453.2 1399.1,1457.2 1404.3,1466.9 1409.4,1473.5 1414.3,1482.1 1419.1,1495.8 1424.3,1507.2 1428.6,1507.8 1434.3,1504.1 1440.0,1502.9 1444.9,1499.2 1450.0,1486.4 1455.7,1467.8 1460.9,1462.9 1465.7,1468.6 1470.6,1470.6 1475.7,1463.5 1480.9,1460.1 1486.6,1468.1 1492.3,1474.4 1497.1,1474.9 1502.9,1470.4 1508.6,1467.2 1514.3,1466.4 1518.6,1463.5 1522.9,1462.4 1528.0,1473.5 1532.9,1484.1 1538.0,1487.8 1543.7,1479.2 1548.6,1469.2 1552.9,1468.1 1557.7,1474.9 1560.0,1477.8 1563.4,1482.1 1568.6,1476.4 1574.3,1472.1 1579.4,1471.2 1585.1,1467.2 1590.0,1465.5 1594.9,1472.6 1600.0,1482.1 1605.1,1480.6 1610.0,1464.9 1615.7,1452.1 1620.6,1457.8 1626.3,1474.9 1631.4,1481.2 1636.6,1469.2 1641.4,1458.6 1646.6,1463.5 1652.0,1474.4 1657.7,1476.9 1662.9,1477.8 1667.1,1479.2 1672.9,1474.9 1677.7,1466.4 1682.9,1458.6 1688.0,1455.8 1692.9,1459.8 1698.6,1468.4 1704.3,1471.2 1709.1,1469.2 1713.7,1469.2 1718.6,1473.8 1723.4,1483.5 1729.1,1494.4 1734.3,1493.5 1739.4,1487.2 1745.1,1490.1 1750.0,1497.8 1754.9,1499.8 1760.0,1492.9 1765.1,1478.6 1770.9,1464.4 1775.7,1457.5 1780.6,1457.2 1786.3,1467.2 1791.4,1480.6 1796.6,1490.1 1801.4,1488.6 1807.1,1478.6 1812.0,1470.6 1817.7,1467.2 1823.4,1467.8 1828.6,1470.1 1833.7,1469.5 1839.4,1464.9 1843.7,1460.6 1848.0,1459.2 1852.9,1464.4 1858.6,1476.4 1862.9,1479.2 1868.0,1468.6 1873.7,1462.9 1879.4,1472.6 1884.3,1479.8 1890.0,1481.5 1895.7,1479.5 1900.6,1478.1 1906.3,1474.9 1911.4,1472.1 1917.1,1471.2 1921.4,1469.2 1925.7,1466.4 1930.9,1470.6 1935.7,1480.6 1940.6,1480.6 1945.7,1472.6 1950.9,1472.6 1955.7,1480.1 1961.4,1480.6 1966.3,1472.6 1971.4,1468.4 1976.6,1470.6 1982.3,1475.8 1987.1,1480.6 1992.9,1482.1 1997.7,1480.1 2002.9,1480.6 2008.6,1484.9 2014.3,1487.2 2020.6,1485.8 2027.1,1482.6 2034.3,1479.8 2040.0,1476.6 2045.7,1473.8 2052.0,1472.4 2059.4,1472.6 2064.3,1476.4 2070.0,1481.5 2074.9,1476.9 2080.0,1465.8 2085.7,1461.8 2090.9,1468.4 2095.7,1476.9 2100.6,1477.2 2106.3,1470.1 2112.3,1465.5" fill="none" stroke="#808080" stroke-width="2" stroke-linejoin="round"/>
<polyline points="304.3,1490.5 306.3,1491.4 311.4,1473.4 316.6,1459.1 322.3,1460.5 327.1,1463.4 332.9,1465.4 337.7,1472.0 342.9,1482.0 348.0,1484.8 352.9,1474.8 358.6,1465.7 363.4,1463.4 368.6,1467.7 373.7,1472.8 378.6,1473.4 383.4,1466.3 389.1,1460.5 394.3,1468.5 399.4,1479.7 405.1,1483.4 410.0,1479.1 414.9,1474.8 420.0,1475.4 425.7,1479.1 430.9,1481.1 435.7,1480.0 441.4,1483.4 446.3,1488.3 450.9,1483.4 455.7,1469.7 461.4,1469.7 466.3,1480.0 471.4,1475.4 476.6,1458.3 481.4,1454.8 486.3,1472.0 492.0,1491.4 497.1,1492.0 502.3,1484.0 508.0,1477.7 514.3,1472.8 519.4,1468.3 524.3,1464.8 528.6,1466.8 533.7,1477.7 539.4,1485.7 545.1,1483.4 550.0,1477.7 554.9,1479.1 560.0,1482.0 564.3,1473.4 570.0,1464.0 574.9,1467.7 580.0,1474.8 585.7,1470.8 590.9,1467.1 595.7,1473.4 601.4,1482.5 607.1,1486.3 612.0,1488.3 616.6,1487.7 621.4,1482.0 626.3,1478.5 632.0,1481.4 638.6,1482.5 642.9,1482.8 648.0,1485.7 652.9,1484.0 657.7,1476.8 663.4,1470.5 668.6,1466.8 673.7,1461.1 678.6,1454.8 684.3,1446.8 689.1,1442.0 694.3,1439.4 699.4,1435.7 704.3,1432.5 709.1,1434.8 713.7,1452.0 717.7,1477.7 721.4,1500.5 725.1,1519.1 730.0,1529.1 735.7,1531.4 740.6,1534.8 745.7,1529.7 750.0,1506.3 754.3,1477.7 758.0,1450.5 761.4,1432.5 765.7,1440.5 770.9,1452.5 776.6,1450.5 782.3,1449.1 787.1,1453.4 792.9,1456.8 797.7,1459.1 802.3,1460.0 807.1,1454.3 812.9,1459.1 817.7,1487.7 822.9,1520.0 828.0,1513.4 832.9,1480.5 837.7,1466.3 843.4,1473.4 848.6,1472.5 854.3,1464.8 859.4,1462.5 864.3,1454.3 868.6,1436.3 874.3,1418.5 880.0,1429.1 885.1,1446.3 890.9,1466.3 895.7,1494.8 900.0,1513.4 905.1,1524.8 910.6,1509.1 915.7,1479.1 920.9,1454.8 925.7,1458.3 930.0,1470.5 935.7,1469.1 941.4,1460.0 946.6,1466.8 952.3,1489.1 957.1,1497.1 962.0,1486.3 967.7,1476.3 972.9,1474.3 978.0,1466.3 982.9,1452.0 988.6,1443.4 993.4,1447.7 998.6,1459.1 1003.7,1471.4 1008.6,1484.8 1013.4,1503.4 1019.1,1523.4 1024.3,1523.4 1029.4,1510.5 1034.3,1493.4 1039.1,1460.5 1044.3,1427.7 1050.0,1420.0 1055.7,1449.1 1060.9,1477.7 1066.6,1482.0 1071.4,1478.3 1076.3,1484.8 1081.4,1494.0 1086.6,1489.7 1091.4,1469.1 1096.6,1462.5 1101.4,1484.8 1107.1,1507.7 1112.3,1518.5 1117.1,1520.0 1122.9,1509.1 1127.7,1489.1 1132.9,1469.1 1138.0,1456.3 1143.7,1449.7 1148.6,1451.1 1153.4,1467.7 1158.6,1484.0 1163.7,1484.0 1169.4,1476.3 1174.3,1477.7 1179.1,1484.0 1184.9,1479.1 1190.0,1464.8 1195.1,1457.1 1201.4,1461.1 1207.1,1464.0 1211.4,1466.3 1215.7,1472.0 1220.9,1470.8 1225.7,1461.4 1230.6,1458.8 1235.7,1467.1 1241.4,1470.5 1246.6,1463.4 1251.4,1462.8 1256.3,1475.7 1261.4,1483.4 1267.1,1487.7 1272.3,1497.7 1278.0,1510.5 1283.7,1517.1 1288.6,1523.4 1292.9,1523.4 1298.0,1494.8 1302.9,1459.1 1308.6,1433.4 1313.7,1425.7 1319.1,1444.0 1324.3,1474.3 1329.4,1482.0 1334.3,1473.4 1339.1,1469.1 1344.3,1467.7 1350.0,1457.1 1355.1,1451.4 1360.0,1460.0 1365.1,1466.8 1370.0,1459.1 1375.1,1449.7 1380.9,1452.5 1385.7,1467.7 1391.4,1486.3 1396.3,1498.3 1401.4,1496.8 1406.6,1480.5 1412.0,1473.4 1417.1,1483.4 1422.0,1493.4 1427.7,1501.1 1432.3,1509.7 1437.1,1509.7 1442.3,1484.8 1447.7,1464.8 1453.4,1461.1 1459.1,1469.1 1464.3,1472.0 1469.4,1475.4 1474.3,1484.0 1479.1,1492.5 1484.3,1488.3 1489.4,1478.5 1495.1,1472.0 1500.0,1468.5 1505.7,1462.0 1510.6,1450.5 1515.1,1438.3 1520.0,1435.7 1525.1,1446.3 1530.6,1460.5 1535.7,1468.5 1541.4,1474.3 1546.6,1480.5 1551.4,1483.4 1557.1,1470.5 1560.0,1464.8 1562.3,1460.0 1567.1,1460.0 1572.9,1467.1 1577.7,1471.1 1582.9,1472.8 1588.0,1474.3 1592.9,1478.3 1597.1,1478.5 1602.9,1473.4 1608.0,1474.8 1613.4,1482.5 1618.6,1480.5 1623.4,1469.1 1628.6,1460.5 1634.3,1465.4 1639.4,1472.8 1644.3,1471.4 1650.0,1468.0 1654.3,1469.7 1659.4,1465.7 1665.1,1457.1 1670.0,1458.3 1674.9,1466.3 1680.6,1470.0 1685.7,1467.7 1690.9,1470.0 1696.6,1476.8 1701.4,1477.7 1706.3,1476.8 1711.4,1486.3 1716.6,1500.0 1721.7,1508.3 1727.1,1504.8 1732.3,1496.8 1737.7,1495.1 1742.9,1494.8 1748.0,1482.8 1753.4,1469.1 1757.7,1469.1 1763.4,1480.5 1768.6,1491.1 1773.7,1491.1 1778.6,1475.7 1783.4,1452.0 1788.6,1439.1 1793.7,1444.8 1799.4,1452.5 1805.1,1454.8 1810.9,1458.3 1816.6,1464.8 1822.3,1472.5 1827.1,1480.0 1830.9,1484.3 1835.7,1484.3 1840.6,1478.5 1845.7,1474.3 1851.4,1474.3 1856.6,1475.7 1861.4,1479.7 1866.6,1485.7 1871.4,1484.0 1876.6,1479.1 1882.3,1476.8 1887.1,1473.7 1892.9,1470.3 1897.7,1474.3 1902.3,1472.0 1907.1,1453.4 1912.9,1442.0 1918.6,1458.3 1923.4,1477.7 1928.6,1479.7 1933.7,1472.0 1938.6,1472.0 1944.3,1474.3 1949.1,1472.8 1954.9,1469.7 1959.4,1470.3 1965.1,1474.8 1970.0,1478.3 1974.9,1473.4 1980.0,1468.3 1985.7,1474.3 1990.9,1484.3 1995.7,1484.3 2000.6,1472.8 2005.7,1467.7 2010.9,1474.8 2015.7,1475.7 2021.4,1473.7 2026.3,1484.8 2031.4,1497.7 2036.6,1487.7 2042.3,1469.1 2047.1,1463.1 2052.9,1467.7 2058.6,1472.5 2064.3,1477.1 2069.1,1481.4 2074.3,1484.0 2078.6,1484.8 2083.4,1483.4 2088.6,1474.3 2093.7,1462.0 2099.4,1453.4 2103.7,1453.1 2108.6,1457.1 2112.3,1461.1" fill="none" stroke="#808080" stroke-width="2" stroke-linejoin="round"/>
<polyline points="304.3,1476.7 310.0,1479.0 316.6,1481.3 322.9,1483.3 328.0,1479.6 333.7,1471.3 339.4,1464.7 344.3,1464.2 350.0,1469.0 357.1,1475.3 363.4,1481.0 369.1,1486.2 374.9,1483.9 380.6,1474.2 385.7,1467.0 390.9,1462.7 395.7,1462.7 400.6,1468.4 405.7,1479.0 411.4,1483.9 416.6,1481.0 422.3,1473.6 427.1,1468.4 432.0,1466.7 437.1,1468.4 442.9,1474.7 448.6,1481.3 454.3,1484.7 458.6,1483.9 463.4,1480.4 469.1,1472.4 474.3,1466.7 478.6,1464.7 484.3,1468.2 490.0,1472.4 494.9,1476.2 500.0,1478.2 505.7,1476.7 511.4,1474.2 517.7,1474.2 524.3,1475.3 530.0,1474.2 536.6,1470.4 542.9,1468.4 548.0,1469.9 554.3,1474.2 560.6,1476.2 567.1,1476.2 573.7,1475.3 579.4,1471.9 585.7,1468.2 590.9,1469.0 596.6,1474.7 602.3,1481.9 608.0,1487.0 612.9,1487.0 617.7,1482.4 622.9,1476.2 628.6,1470.4 632.9,1470.4 638.6,1477.6 644.3,1488.2 649.1,1490.4 653.7,1489.0 658.6,1484.7 664.3,1476.2 670.0,1466.2 674.9,1457.6 680.0,1454.7 684.3,1455.6 689.1,1458.2 694.3,1454.7 699.4,1443.3 705.1,1430.4 710.9,1440.4 715.7,1466.2 720.6,1491.9 725.7,1506.2 730.9,1510.4 735.7,1510.2 741.4,1504.7 747.1,1494.7 752.9,1484.7 758.6,1477.6 764.3,1467.6 769.1,1458.2 773.7,1454.2 778.6,1455.3 783.4,1460.4 788.6,1469.9 793.7,1480.4 799.4,1484.7 805.1,1483.3 810.0,1479.6 814.3,1476.7 818.6,1480.4 824.3,1494.7 829.4,1507.6 834.9,1501.0 840.0,1483.3 845.7,1472.4 850.9,1469.0 855.7,1461.9 861.4,1446.7 865.7,1433.3 870.9,1428.4 875.7,1437.6 881.4,1456.2 887.1,1477.6 892.0,1491.9 897.1,1489.9 902.3,1475.3 907.1,1461.3 912.0,1459.9 917.1,1468.4 922.9,1489.0 928.6,1514.7 930.0,1517.6 932.9,1524.7 938.0,1514.7 942.9,1491.9 947.7,1466.2 952.9,1447.6 958.6,1442.7 963.7,1454.7 968.6,1471.9 973.4,1485.6 979.1,1488.4 984.3,1481.9 990.0,1470.4 995.7,1461.9 1001.4,1453.3 1005.7,1449.6 1010.6,1448.4 1015.7,1463.3 1020.9,1491.9 1025.7,1524.7 1030.6,1536.2 1035.7,1520.4 1040.9,1486.2 1045.7,1453.3 1051.4,1431.9 1056.6,1428.2 1061.4,1437.6 1066.6,1451.9 1071.4,1464.2 1077.1,1466.7 1082.3,1467.6 1087.1,1474.7 1092.9,1484.7 1098.0,1485.3 1102.9,1474.2 1108.6,1464.2 1113.4,1469.0 1118.6,1486.2 1123.7,1503.3 1129.1,1508.2 1134.3,1501.0 1139.1,1483.3 1144.9,1463.3 1150.0,1451.3 1154.3,1451.9 1160.0,1459.0 1165.7,1464.7 1170.6,1469.6 1175.7,1480.4 1180.9,1489.0 1185.7,1487.6 1191.4,1479.0 1197.1,1470.4 1202.0,1464.7 1207.1,1461.0 1212.3,1461.3 1217.1,1470.4 1222.0,1480.4 1227.7,1482.7 1232.9,1474.7 1238.0,1463.3 1242.9,1457.6 1247.7,1462.4 1252.9,1477.6 1258.0,1490.4 1263.7,1495.3 1268.6,1494.2 1274.3,1489.6 1280.0,1485.3 1284.9,1483.3 1289.4,1480.4 1294.3,1471.9 1299.1,1462.2 1304.3,1461.9 1310.0,1470.4 1315.7,1474.7 1321.4,1474.2 1326.6,1473.3 1331.4,1473.9 1335.7,1472.4 1341.4,1466.7 1346.6,1462.7 1352.3,1464.2 1357.1,1467.0 1362.9,1468.2 1368.6,1467.9 1374.3,1468.4 1380.0,1469.9 1385.7,1470.2 1391.4,1468.2 1397.1,1465.3 1402.0,1465.6 1407.1,1471.9 1412.9,1483.3 1418.6,1494.7 1423.7,1499.6 1429.4,1501.0 1434.3,1498.4 1440.0,1492.7 1445.7,1487.6 1452.9,1483.3 1458.6,1477.6 1464.9,1469.9 1470.0,1464.2 1475.7,1464.7 1480.9,1473.3 1485.7,1483.9 1490.6,1489.9 1495.7,1484.2 1500.9,1471.9 1506.6,1459.0 1512.3,1452.7 1517.1,1452.4 1522.0,1455.6 1527.1,1463.3 1532.3,1474.7 1537.1,1486.2 1542.3,1489.9 1547.7,1483.3 1552.9,1471.9 1558.0,1459.9 1560.0,1456.2 1562.9,1454.2 1568.0,1459.0 1573.7,1469.0 1579.4,1477.0 1585.1,1483.3 1590.0,1489.0 1594.9,1492.4 1599.4,1490.4 1604.3,1481.0 1610.0,1469.0 1615.7,1463.3 1620.0,1463.9 1625.7,1469.0 1631.4,1475.3 1636.6,1480.4 1641.4,1482.2 1646.3,1478.2 1651.4,1469.9 1656.6,1461.9 1661.4,1458.4 1666.3,1457.6 1672.0,1459.0 1677.7,1462.7 1685.7,1467.6 1692.9,1474.2 1697.7,1477.6 1702.9,1475.3 1707.7,1473.9 1712.9,1479.6 1718.6,1483.9 1724.3,1483.9 1729.1,1481.9 1733.7,1482.2 1738.6,1487.0 1744.3,1491.9 1748.6,1491.9 1754.3,1486.7 1760.0,1479.0 1765.1,1472.7 1770.9,1468.2 1777.1,1468.2 1782.9,1469.6 1790.0,1470.7 1795.7,1473.3 1801.4,1472.7 1808.6,1471.6 1814.3,1473.6 1820.0,1477.0 1825.7,1480.4 1831.4,1483.0 1836.6,1478.4 1841.4,1469.9 1847.1,1463.9 1852.9,1460.4 1857.7,1460.4 1862.3,1466.2 1867.1,1474.7 1872.9,1480.4 1877.7,1481.9 1883.4,1480.4 1888.6,1475.3 1893.7,1469.6 1899.4,1465.6 1905.1,1467.0 1910.9,1469.9 1917.1,1474.7 1922.9,1479.0 1928.6,1480.7 1933.7,1479.0 1939.4,1474.7 1945.1,1469.9 1950.9,1466.7 1955.7,1467.9 1961.4,1474.7 1966.3,1479.0 1971.4,1478.2 1977.1,1473.9 1982.3,1472.7 1988.6,1474.7 1994.3,1475.6 2002.3,1475.3 2008.0,1477.6 2014.3,1479.9 2020.0,1479.6 2026.3,1479.9 2031.4,1481.9 2037.1,1483.3 2042.9,1481.9 2048.6,1478.2 2054.3,1475.3 2060.0,1475.3 2065.7,1475.3 2071.4,1473.0 2077.7,1470.4 2082.9,1470.7 2089.1,1471.3 2094.9,1468.4 2100.0,1464.7 2105.7,1464.2 2112.3,1467.0" fill="none" stroke="#808080" stroke-width="2" stroke-linejoin="round"/>
<polyline points="304.3,1475.2 308.6,1474.6 314.3,1476.9 320.0,1478.3 325.7,1476.9 331.4,1472.3 337.1,1468.1 342.9,1466.1 347.1,1466.6 352.9,1468.9 360.0,1473.2 368.6,1477.5 377.1,1479.5 385.7,1479.8 391.4,1477.5 398.6,1473.2 405.7,1470.3 411.4,1469.8 417.1,1471.2 424.3,1473.5 430.0,1474.1 437.1,1472.6 445.7,1472.1 454.3,1472.3 460.0,1474.6 465.1,1476.9 470.9,1478.3 476.6,1476.1 482.9,1472.6 488.6,1470.3 493.7,1470.3 498.6,1473.2 504.3,1477.5 511.4,1478.3 521.4,1478.9 528.6,1476.1 535.7,1473.2 542.9,1472.3 551.4,1473.8 560.0,1474.1 568.6,1474.1 575.7,1476.1 582.9,1475.2 588.6,1474.6 594.3,1476.6 601.4,1477.5 608.6,1476.6 617.1,1476.1 624.3,1474.1 631.4,1472.3 640.0,1473.2 645.7,1471.2 651.4,1470.3 658.6,1471.2 664.3,1468.9 671.4,1465.2 677.1,1466.1 684.3,1467.8 691.4,1469.2 698.6,1470.6 703.4,1472.3 708.0,1476.1 712.9,1480.3 717.7,1481.8 722.9,1483.8 728.6,1490.3 733.7,1496.9 738.6,1500.9 744.3,1497.5 748.6,1487.5 754.3,1470.3 760.0,1458.9 765.7,1454.1 770.9,1455.2 775.7,1456.1 780.0,1454.1 785.7,1450.9 790.0,1452.3 794.9,1458.9 800.6,1468.3 806.3,1473.2 811.4,1477.5 817.1,1488.9 822.3,1510.3 827.1,1536.1 832.0,1534.1 837.1,1497.5 842.3,1464.6 848.0,1456.1 852.9,1464.6 857.7,1466.1 862.3,1460.9 868.0,1454.6 872.9,1450.3 878.6,1448.3 883.4,1452.3 888.6,1463.2 894.3,1478.1 899.4,1484.6 904.3,1479.5 910.0,1473.2 915.7,1470.3 921.4,1472.3 927.1,1472.3 930.0,1471.8 935.1,1469.8 940.9,1473.2 945.7,1480.9 951.4,1486.6 956.3,1485.5 960.9,1484.6 966.6,1488.3 971.4,1490.9 976.3,1488.3 981.4,1477.5 987.1,1464.6 992.9,1458.9 998.0,1460.9 1003.7,1466.6 1009.4,1471.8 1015.1,1477.5 1020.9,1483.8 1025.7,1488.3 1029.4,1489.5 1033.4,1487.5 1038.6,1476.1 1043.7,1458.1 1048.6,1442.3 1054.3,1438.9 1060.0,1450.3 1064.3,1461.8 1070.0,1474.1 1075.1,1478.3 1080.0,1477.5 1085.7,1470.3 1091.4,1466.1 1098.6,1480.3 1102.9,1494.6 1106.6,1506.1 1111.4,1510.3 1116.3,1501.8 1121.4,1488.9 1126.6,1476.9 1131.4,1470.3 1136.6,1471.8 1142.0,1474.6 1147.1,1472.3 1152.3,1468.1 1157.1,1465.5 1162.9,1466.1 1169.4,1468.3 1175.1,1470.9 1180.9,1473.2 1185.7,1474.1 1192.3,1472.3 1198.6,1469.8 1204.3,1473.2 1209.4,1480.3 1214.9,1486.6 1220.0,1486.1 1225.7,1477.5 1231.4,1470.3 1236.3,1468.1 1244.3,1466.9 1251.4,1466.6 1258.6,1467.8 1264.3,1468.3 1270.0,1467.5 1276.3,1467.8 1281.4,1471.2 1287.1,1479.5 1292.3,1485.2 1297.1,1484.6 1302.0,1476.1 1307.1,1468.1 1312.9,1464.6 1318.6,1466.1 1324.3,1467.5 1331.4,1467.5 1337.1,1469.5 1343.7,1472.3 1350.0,1474.6 1355.7,1478.9 1362.0,1484.6 1367.1,1487.5 1373.4,1488.9 1379.1,1487.5 1385.7,1484.6 1391.4,1483.2 1396.3,1480.3 1401.4,1470.3 1406.6,1458.9 1411.4,1452.3 1416.6,1454.6 1422.0,1460.3 1427.7,1464.6 1432.3,1468.1 1437.1,1474.1 1442.9,1483.2 1448.6,1493.2 1453.4,1500.3 1458.0,1505.5 1462.0,1506.6 1467.1,1501.8 1472.9,1493.2 1478.0,1484.6 1484.3,1477.5 1490.6,1474.6 1497.1,1469.5 1502.9,1464.1 1508.6,1458.9 1515.1,1454.6 1520.9,1450.3 1527.7,1448.3 1533.4,1450.3 1539.1,1455.5 1544.9,1460.9 1550.6,1465.2 1557.1,1466.9 1560.0,1468.9 1565.7,1473.2 1571.4,1479.8 1577.1,1484.1 1584.3,1484.6 1592.9,1485.5 1602.9,1486.1 1608.0,1486.6 1612.0,1486.1 1617.1,1479.8 1622.9,1470.3 1628.6,1465.2 1634.3,1463.8 1638.6,1464.1 1644.3,1468.1 1650.0,1472.3 1655.7,1474.1 1661.4,1473.2 1667.1,1471.2 1674.3,1470.3 1680.0,1472.6 1685.7,1475.5 1691.4,1476.6 1698.6,1476.1 1705.7,1474.6 1711.4,1473.2 1715.7,1474.1 1721.4,1479.8 1727.1,1484.6 1732.9,1485.5 1741.4,1484.6 1747.1,1481.8 1752.9,1478.1 1757.1,1477.5 1762.9,1480.3 1768.6,1483.2 1775.7,1485.2 1781.4,1487.5 1787.1,1488.1 1792.0,1486.1 1798.6,1481.2 1805.1,1476.9 1810.9,1473.2 1816.6,1467.5 1822.9,1458.1 1829.1,1448.9 1834.3,1444.6 1841.4,1442.6 1845.7,1442.6 1850.0,1443.8 1854.9,1451.8 1860.0,1465.5 1865.1,1472.3 1870.9,1464.6 1875.7,1458.1 1881.4,1464.6 1885.7,1477.5 1891.4,1489.5 1897.1,1493.8 1901.4,1494.9 1906.3,1492.6 1912.0,1490.1 1922.3,1490.1 1931.4,1487.5 1941.4,1484.1 1948.6,1484.3 1954.9,1484.6 1960.0,1482.6 1967.1,1478.9 1974.3,1476.6 1982.9,1474.3 1992.9,1472.6 1999.4,1470.3 2005.7,1466.1 2011.4,1461.2 2016.6,1457.5 2022.9,1455.5 2030.0,1454.1 2035.7,1455.5 2041.4,1461.8 2046.3,1466.9 2051.4,1468.3 2056.6,1468.3 2061.4,1470.9 2067.1,1477.5 2072.9,1483.2 2077.7,1484.9 2082.9,1483.2 2088.6,1480.9 2094.3,1480.3 2100.0,1481.2 2105.7,1481.2 2112.3,1480.6" fill="none" stroke="#808080" stroke-width="2" stroke-linejoin="round"/>
<polyline points="304.3,1472.2 311.4,1473.4 320.0,1474.5 327.1,1476.0 332.9,1476.2 338.6,1474.5 345.7,1472.2 352.9,1470.8 360.0,1471.1 368.6,1473.1 375.7,1474.5 381.4,1474.5 387.1,1472.5 392.9,1470.8 398.6,1471.7 405.7,1474.5 412.9,1476.8 418.6,1476.0 425.7,1474.0 432.9,1474.5 440.0,1476.2 447.1,1477.4 452.9,1479.7 458.6,1480.8 464.3,1478.0 470.9,1474.5 477.1,1473.7 482.9,1475.4 488.6,1478.8 495.7,1482.5 502.9,1482.8 510.0,1481.7 517.1,1481.4 525.7,1482.2 532.9,1483.1 540.0,1483.7 545.7,1483.1 550.0,1481.7 554.3,1474.5 558.6,1456.0 564.3,1440.2 570.0,1428.8 575.7,1421.7 582.9,1417.4 589.1,1413.1 594.3,1415.1 598.6,1426.0 602.9,1443.1 607.1,1463.1 611.4,1488.8 615.7,1511.7 620.6,1531.1 625.7,1536.0 630.9,1529.4 636.6,1523.7 641.4,1524.5 646.6,1528.8 651.4,1530.2 657.1,1527.4 662.3,1518.8 667.1,1500.2 672.0,1474.5 676.6,1448.8 681.4,1430.2 687.1,1429.7 692.9,1436.0 697.1,1435.4 702.3,1428.8 708.0,1425.4 712.9,1434.5 717.1,1451.7 721.4,1474.5 725.7,1496.0 729.1,1506.8 733.7,1511.7 739.4,1500.2 744.3,1483.1 750.0,1464.5 755.7,1450.2 760.6,1441.7 765.7,1436.8 770.9,1441.1 775.7,1453.1 780.6,1471.1 785.7,1487.4 790.9,1495.4 795.7,1491.7 800.6,1483.1 806.3,1483.1 811.4,1494.5 817.1,1505.4 822.3,1508.8 828.0,1504.5 832.9,1493.1 837.7,1478.8 842.9,1466.5 848.0,1462.2 852.9,1470.2 858.0,1480.2 862.9,1475.1 867.1,1460.2 871.4,1445.4 876.6,1441.1 881.4,1451.7 887.1,1466.0 892.9,1480.2 897.7,1490.2 902.9,1491.1 908.0,1481.7 914.3,1474.5 919.4,1481.7 924.3,1500.2 928.6,1508.2 930.0,1512.2 935.1,1497.4 940.0,1471.7 945.7,1434.0 950.9,1428.8 955.7,1444.5 961.4,1463.1 966.6,1468.2 972.3,1469.7 977.1,1474.0 982.3,1478.0 987.1,1476.0 992.3,1474.0 998.0,1476.0 1003.7,1477.4 1008.6,1478.0 1013.4,1481.1 1018.6,1488.8 1023.7,1498.2 1028.6,1499.7 1033.4,1494.0 1039.1,1484.5 1044.9,1474.5 1050.0,1462.2 1054.9,1449.4 1060.0,1441.7 1064.9,1445.4 1070.0,1458.0 1075.1,1466.5 1080.0,1462.5 1085.7,1453.7 1090.6,1458.2 1095.7,1476.0 1100.9,1494.5 1105.7,1506.0 1111.4,1516.0 1116.3,1522.2 1121.4,1518.0 1126.6,1498.8 1131.4,1477.4 1136.3,1460.2 1142.0,1453.7 1146.6,1452.2 1152.3,1446.5 1158.0,1438.8 1162.9,1439.4 1167.7,1451.7 1172.9,1470.2 1178.6,1488.8 1183.7,1496.8 1188.6,1496.0 1194.3,1482.5 1199.4,1470.2 1204.3,1465.1 1209.4,1465.4 1214.3,1470.8 1219.4,1474.0 1224.3,1470.5 1229.4,1469.7 1235.1,1478.8 1240.0,1486.5 1245.1,1489.7 1250.0,1484.5 1255.7,1478.8 1260.9,1478.8 1266.6,1483.1 1271.4,1483.7 1277.1,1477.4 1282.0,1468.8 1287.1,1464.0 1292.3,1464.5 1297.1,1467.4 1302.0,1468.8 1307.1,1467.4 1312.9,1463.1 1318.0,1458.0 1322.9,1455.4 1328.6,1459.7 1334.3,1466.0 1340.0,1468.0 1344.9,1468.8 1350.0,1474.0 1355.1,1483.1 1360.0,1491.7 1364.3,1494.5 1369.4,1490.2 1374.3,1480.2 1380.0,1472.2 1385.7,1468.8 1390.6,1468.8 1395.7,1471.7 1401.4,1479.7 1406.6,1487.4 1411.4,1491.7 1416.3,1491.7 1421.4,1488.0 1427.1,1480.2 1432.9,1471.7 1438.6,1463.7 1444.3,1458.8 1449.4,1454.5 1454.3,1451.7 1459.1,1453.1 1464.3,1461.7 1469.4,1477.4 1474.3,1488.8 1479.1,1493.1 1484.9,1492.8 1491.4,1491.7 1497.1,1489.7 1502.0,1484.5 1507.1,1476.0 1512.9,1467.4 1518.0,1466.5 1523.7,1472.2 1529.4,1479.7 1535.1,1484.0 1540.0,1484.5 1545.7,1478.8 1551.4,1471.7 1557.1,1466.0 1560.0,1464.5 1566.3,1459.4 1571.4,1453.7 1576.6,1448.0 1581.4,1444.8 1586.3,1448.8 1591.4,1458.8 1596.6,1467.4 1602.3,1472.2 1608.6,1473.1 1615.7,1472.0 1624.3,1470.5 1630.0,1472.5 1637.1,1475.4 1644.3,1478.8 1650.0,1481.7 1654.3,1483.1 1659.4,1482.8 1664.3,1481.1 1670.0,1481.1 1674.9,1483.7 1680.0,1488.2 1685.7,1492.2 1690.0,1494.0 1694.9,1492.2 1700.6,1488.2 1706.3,1484.0 1711.4,1482.5 1718.6,1483.1 1725.7,1482.5 1734.3,1480.8 1741.4,1476.0 1747.1,1470.2 1752.9,1466.5 1760.0,1463.7 1765.7,1460.2 1772.0,1457.4 1777.1,1458.0 1782.9,1461.1 1788.6,1464.5 1794.3,1466.5 1798.6,1466.2 1804.3,1463.7 1809.1,1461.7 1814.3,1463.1 1820.0,1467.4 1825.1,1469.7 1832.9,1471.7 1838.6,1474.5 1845.7,1478.8 1850.9,1483.7 1855.7,1489.4 1860.6,1493.7 1865.1,1493.4 1870.9,1488.8 1876.6,1484.0 1882.9,1479.7 1890.0,1476.8 1900.0,1474.5 1910.9,1472.5 1917.1,1468.8 1923.4,1463.1 1928.6,1460.8 1932.9,1461.4 1938.6,1465.1 1944.3,1469.4 1950.0,1472.5 1957.1,1475.4 1963.4,1478.0 1968.6,1478.0 1974.3,1476.8 1980.0,1477.7 1987.1,1479.4 1995.7,1480.0 2001.4,1479.1 2007.1,1477.4 2012.9,1476.5 2018.6,1478.2 2025.7,1478.8 2030.9,1474.5 2036.6,1467.7 2041.4,1463.7 2047.1,1462.5 2052.9,1463.1 2061.4,1465.4 2068.6,1467.1 2077.1,1468.8 2084.3,1471.1 2090.9,1472.5 2096.6,1474.5 2102.9,1476.2 2112.3,1476.8" fill="none" stroke="#808080" stroke-width="2" stroke-linejoin="round"/>
<polyline points="304.3,1475.1 308.6,1478.0 314.3,1478.8 320.0,1476.8 328.6,1473.1 340.0,1470.2 347.1,1471.1 354.3,1473.4 361.4,1474.5 371.4,1478.0 375.7,1477.4 385.7,1473.4 394.3,1472.2 408.6,1473.1 422.9,1472.2 432.9,1472.0 444.3,1468.0 448.6,1468.2 455.7,1472.2 462.9,1475.4 468.6,1476.0 474.3,1474.5 480.0,1474.8 485.7,1476.8 490.0,1476.2 495.7,1471.7 500.0,1470.0 511.4,1474.0 528.6,1475.1 542.9,1474.5 551.4,1474.8 562.9,1476.8 574.3,1477.4 581.4,1479.7 585.7,1478.5 592.9,1474.0 602.9,1476.2 611.4,1477.4 620.0,1477.7 631.4,1481.7 642.9,1483.1 651.4,1485.4 657.1,1484.2 662.9,1480.2 670.0,1466.0 680.0,1448.2 687.1,1445.4 692.9,1440.2 697.1,1427.4 701.4,1416.8 707.1,1425.4 712.9,1457.4 717.1,1488.8 721.4,1517.4 727.1,1534.0 732.9,1532.2 738.6,1523.1 744.3,1507.4 748.6,1488.8 754.3,1463.1 758.6,1453.1 762.9,1455.1 768.6,1460.2 772.9,1462.5 778.6,1462.5 784.3,1459.7 790.0,1456.8 795.7,1460.8 800.0,1471.7 805.7,1476.0 810.0,1468.8 815.7,1476.0 820.0,1503.1 825.7,1536.0 831.4,1523.1 835.7,1491.7 841.4,1467.4 847.1,1460.8 852.9,1458.0 857.1,1459.1 862.3,1462.0 867.1,1451.7 872.9,1426.0 877.1,1412.5 882.9,1427.4 888.6,1466.0 892.9,1503.1 898.6,1520.2 904.3,1506.0 908.6,1480.2 913.7,1463.1 918.6,1459.7 924.3,1467.4 930.0,1488.8 934.3,1506.0 940.0,1503.1 944.3,1488.8 950.0,1476.8 955.7,1473.1 960.0,1472.0 965.7,1475.1 970.0,1480.8 975.7,1482.2 981.4,1475.1 985.7,1463.1 991.4,1451.7 996.6,1457.4 1001.4,1468.2 1005.7,1469.7 1011.4,1469.4 1017.1,1478.8 1021.4,1496.0 1027.1,1511.7 1032.3,1511.7 1037.7,1498.8 1042.9,1477.4 1047.7,1453.1 1053.4,1439.4 1058.6,1443.1 1063.7,1453.1 1069.1,1458.2 1074.3,1457.4 1080.0,1452.5 1084.3,1451.1 1089.4,1458.0 1094.3,1471.7 1100.0,1486.0 1107.1,1496.0 1115.7,1506.8 1120.0,1508.8 1125.7,1500.8 1131.4,1481.7 1135.7,1468.8 1141.4,1458.8 1146.6,1455.7 1152.9,1458.2 1157.1,1461.7 1162.9,1462.2 1167.1,1461.7 1172.3,1468.8 1177.1,1483.1 1182.9,1496.0 1187.7,1499.7 1192.9,1496.8 1198.6,1490.2 1203.7,1481.7 1208.6,1468.2 1213.4,1454.5 1218.6,1450.5 1224.3,1455.7 1230.0,1460.2 1235.7,1464.5 1241.4,1468.2 1245.7,1469.7 1250.0,1470.2 1255.7,1475.1 1261.4,1483.1 1268.6,1491.7 1275.7,1501.7 1280.3,1504.5 1285.7,1496.8 1290.6,1478.8 1295.7,1460.2 1300.9,1446.5 1306.6,1443.7 1311.4,1453.1 1317.1,1468.8 1322.0,1473.1 1327.1,1475.1 1332.9,1479.7 1337.1,1483.1 1342.0,1482.8 1347.1,1477.4 1352.9,1468.8 1358.6,1460.8 1363.7,1457.4 1368.6,1458.0 1374.3,1459.7 1380.9,1460.8 1387.1,1463.1 1392.9,1468.8 1398.6,1475.4 1404.9,1480.2 1411.4,1485.4 1415.7,1490.2 1420.0,1496.5 1425.1,1500.8 1430.0,1498.0 1435.1,1487.4 1440.9,1476.8 1447.1,1470.5 1452.3,1468.8 1456.6,1468.8 1461.4,1474.5 1466.6,1485.4 1471.4,1495.1 1476.3,1495.7 1481.4,1488.8 1487.1,1482.5 1492.9,1479.1 1498.6,1476.8 1502.9,1474.0 1507.7,1467.4 1512.9,1458.0 1518.0,1451.7 1523.7,1455.4 1528.6,1465.4 1533.4,1474.5 1538.6,1480.8 1543.4,1481.4 1548.6,1478.2 1554.3,1475.1 1560.0,1475.1 1565.7,1474.5 1575.7,1470.0 1585.7,1468.8 1590.0,1467.4 1595.7,1463.7 1600.6,1462.2 1605.7,1465.4 1611.4,1471.7 1617.1,1478.2 1622.3,1482.5 1627.1,1482.0 1632.9,1479.4 1637.7,1479.7 1642.3,1481.1 1647.1,1478.0 1652.0,1470.2 1657.1,1462.0 1662.9,1458.0 1668.0,1458.5 1673.7,1461.1 1678.6,1461.4 1684.3,1459.4 1688.6,1460.0 1693.7,1466.0 1699.4,1472.0 1704.3,1472.2 1709.1,1470.5 1714.3,1471.7 1719.4,1476.8 1724.3,1484.5 1730.0,1493.1 1735.7,1497.4 1740.0,1498.5 1745.1,1500.8 1750.0,1502.5 1754.9,1500.2 1760.0,1495.4 1766.3,1489.4 1771.4,1481.7 1776.6,1472.5 1781.4,1466.5 1787.1,1465.7 1791.4,1466.0 1796.6,1465.7 1802.9,1462.5 1808.6,1460.0 1812.9,1460.2 1818.6,1462.2 1824.3,1463.1 1828.6,1465.1 1833.7,1470.2 1838.6,1477.4 1843.7,1482.0 1848.6,1481.1 1854.3,1479.1 1860.0,1479.4 1864.3,1480.2 1870.0,1480.0 1875.7,1477.4 1880.6,1474.8 1885.7,1474.0 1891.4,1475.4 1895.7,1475.1 1901.4,1472.0 1907.1,1470.0 1912.9,1469.4 1917.1,1467.7 1921.4,1464.0 1926.6,1460.2 1931.4,1459.1 1936.6,1461.1 1942.9,1466.0 1948.6,1471.7 1953.7,1475.7 1960.0,1478.0 1965.7,1479.7 1971.4,1482.0 1977.7,1483.4 1982.9,1482.2 1988.6,1476.8 1994.3,1469.4 1999.4,1465.7 2003.7,1466.0 2009.1,1469.7 2014.3,1474.0 2020.0,1478.5 2025.7,1480.8 2031.4,1482.0 2037.1,1484.2 2042.9,1486.8 2047.1,1486.8 2052.9,1483.7 2060.0,1480.2 2065.7,1478.2 2071.4,1478.2 2075.7,1477.4 2080.6,1473.1 2086.3,1469.4 2091.4,1471.7 2096.6,1474.8 2101.4,1474.2 2107.1,1472.0 2112.3,1470.8" fill="none" stroke="#0000ff" stroke-width="2" stroke-linejoin="round"/>
<polyline points="304.3,242.0 308.6,244.9 314.3,245.7 320.0,243.7 328.6,240.0 340.0,237.1 347.1,238.0 354.3,240.3 361.4,241.4 371.4,244.9 375.7,244.3 385.7,240.3 394.3,239.1 408.6,240.0 422.9,239.1 432.9,238.9 444.3,234.9 448.6,235.1 455.7,239.1 462.9,242.3 468.6,242.9 474.3,241.4 480.0,241.7 485.7,243.7 490.0,243.1 495.7,238.6 500.0,236.9 511.4,240.9 528.6,242.0 542.9,241.4 551.4,241.7 562.9,243.7 574.3,244.3 581.4,246.6 585.7,245.4 592.9,240.9 602.9,243.1 611.4,244.3 620.0,244.6 631.4,248.6 642.9,250.0 651.4,252.3 657.1,251.1 662.9,247.1 670.0,232.9 680.0,215.1 687.1,212.3 692.9,207.1 697.1,194.3 701.4,183.7 707.1,192.3 712.9,224.3 717.1,255.7 721.4,284.3 727.1,300.9 732.9,299.1 738.6,290.0 744.3,274.3 748.6,255.7 754.3,230.0 758.6,220.0 762.9,222.0 768.6,227.1 772.9,229.4 778.6,229.4 784.3,226.6 790.0,223.7 795.7,227.7 800.0,238.6 805.7,242.9 810.0,235.7 815.7,242.9 820.0,270.0 825.7,302.9 831.4,290.0 835.7,258.6 841.4,234.3 847.1,227.7 852.9,224.9 857.1,226.0 862.3,228.9 867.1,218.6 872.9,192.9 877.1,179.4 882.9,194.3 888.6,232.9 892.9,270.0 898.6,287.1 904.3,272.9 908.6,247.1 913.7,230.0 918.6,226.6 924.3,234.3 930.0,255.7 934.3,272.9 940.0,270.0 944.3,255.7 950.0,243.7 955.7,240.0 960.0,238.9 965.7,242.0 970.0,247.7 975.7,249.1 981.4,242.0 985.7,230.0 991.4,218.6 996.6,224.3 1001.4,235.1 1005.7,236.6 1011.4,236.3 1017.1,245.7 1021.4,262.9 1027.1,278.6 1032.3,278.6 1037.7,265.7 1042.9,244.3 1047.7,220.0 1053.4,206.3 1058.6,210.0 1063.7,220.0 1069.1,225.1 1074.3,224.3 1080.0,219.4 1084.3,218.0 1089.4,224.9 1094.3,238.6 1100.0,252.9 1107.1,262.9 1115.7,273.7 1120.0,275.7 1125.7,267.7 1131.4,248.6 1135.7,235.7 1141.4,225.7 1146.6,222.6 1152.9,225.1 1157.1,228.6 1162.9,229.1 1167.1,228.6 1172.3,235.7 1177.1,250.0 1182.9,262.9 1187.7,266.6 1192.9,263.7 1198.6,257.1 1203.7,248.6 1208.6,235.1 1213.4,221.4 1218.6,217.4 1224.3,222.6 1230.0,227.1 1235.7,231.4 1241.4,235.1 1245.7,236.6 1250.0,237.1 1255.7,242.0 1261.4,250.0 1268.6,258.6 1275.7,268.6 1280.3,271.4 1285.7,263.7 1290.6,245.7 1295.7,227.1 1300.9,213.4 1306.6,210.6 1311.4,220.0 1317.1,235.7 1322.0,240.0 1327.1,242.0 1332.9,246.6 1337.1,250.0 1342.0,249.7 1347.1,244.3 1352.9,235.7 1358.6,227.7 1363.7,224.3 1368.6,224.9 1374.3,226.6 1380.9,227.7 1387.1,230.0 1392.9,235.7 1398.6,242.3 1404.9,247.1 1411.4,252.3 1415.7,257.1 1420.0,263.4 1425.1,267.7 1430.0,264.9 1435.1,254.3 1440.9,243.7 1447.1,237.4 1452.3,235.7 1456.6,235.7 1461.4,241.4 1466.6,252.3 1471.4,262.0 1476.3,262.6 1481.4,255.7 1487.1,249.4 1492.9,246.0 1498.6,243.7 1502.9,240.9 1507.7,234.3 1512.9,224.9 1518.0,218.6 1523.7,222.3 1528.6,232.3 1533.4,241.4 1538.6,247.7 1543.4,248.3 1548.6,245.1 1554.3,242.0 1560.0,242.0 1565.7,241.4 1575.7,236.9 1585.7,235.7 1590.0,234.3 1595.7,230.6 1600.6,229.1 1605.7,232.3 1611.4,238.6 1617.1,245.1 1622.3,249.4 1627.1,248.9 1632.9,246.3 1637.7,246.6 1642.3,248.0 1647.1,244.9 1652.0,237.1 1657.1,228.9 1662.9,224.9 1668.0,225.4 1673.7,228.0 1678.6,228.3 1684.3,226.3 1688.6,226.9 1693.7,232.9 1699.4,238.9 1704.3,239.1 1709.1,237.4 1714.3,238.6 1719.4,243.7 1724.3,251.4 1730.0,260.0 1735.7,264.3 1740.0,265.4 1745.1,267.7 1750.0,269.4 1754.9,267.1 1760.0,262.3 1766.3,256.3 1771.4,248.6 1776.6,239.4 1781.4,233.4 1787.1,232.6 1791.4,232.9 1796.6,232.6 1802.9,229.4 1808.6,226.9 1812.9,227.1 1818.6,229.1 1824.3,230.0 1828.6,232.0 1833.7,237.1 1838.6,244.3 1843.7,248.9 1848.6,248.0 1854.3,246.0 1860.0,246.3 1864.3,247.1 1870.0,246.9 1875.7,244.3 1880.6,241.7 1885.7,240.9 1891.4,242.3 1895.7,242.0 1901.4,238.9 1907.1,236.9 1912.9,236.3 1917.1,234.6 1921.4,230.9 1926.6,227.1 1931.4,226.0 1936.6,228.0 1942.9,232.9 1948.6,238.6 1953.7,242.6 1960.0,244.9 1965.7,246.6 1971.4,248.9 1977.7,250.3 1982.9,249.1 1988.6,243.7 1994.3,236.3 1999.4,232.6 2003.7,232.9 2009.1,236.6 2014.3,240.9 2020.0,245.4 2025.7,247.7 2031.4,248.9 2037.1,251.1 2042.9,253.7 2047.1,253.7 2052.9,250.6 2060.0,247.1 2065.7,245.1 2071.4,245.1 2075.7,244.3 2080.6,240.0 2086.3,236.3 2091.4,238.6 2096.6,241.7 2101.4,241.1 2107.1,238.9 2112.3,237.7" fill="none" stroke="#0000ff" stroke-width="2" stroke-linejoin="round"/>
<polyline points="304.3,353.0 311.4,353.3 317.1,355.0 325.7,357.3 330.0,355.0 335.7,349.3 340.6,347.9 345.7,350.4 351.4,353.9 358.6,355.0 364.3,358.1 368.6,361.0 371.4,360.7 377.1,355.9 382.9,352.1 390.0,351.0 397.1,352.1 402.9,353.9 408.6,355.3 414.3,354.4 420.0,353.0 428.6,353.3 434.3,350.4 440.0,347.0 442.9,346.4 448.6,349.3 455.7,353.3 464.3,354.4 471.4,355.3 477.1,353.9 482.9,351.6 488.6,352.4 497.1,352.1 502.9,352.7 511.4,356.7 517.1,355.6 522.9,353.3 528.6,352.7 537.1,353.9 542.9,353.0 548.6,353.3 554.3,355.0 560.0,356.1 568.6,353.9 574.3,352.1 582.9,352.1 588.6,355.3 594.3,360.1 598.6,362.1 602.9,360.7 610.0,358.1 618.6,355.9 625.7,358.1 634.3,359.3 640.0,360.7 645.7,362.4 650.0,360.4 655.7,356.7 660.6,357.3 666.3,357.3 671.4,350.1 675.7,337.9 681.4,326.4 687.1,327.3 692.9,324.4 697.1,319.6 702.9,310.1 707.1,307.9 712.9,324.4 717.1,345.9 721.4,371.6 725.1,393.0 728.6,408.7 732.9,414.4 738.6,408.7 744.3,388.7 748.6,368.7 754.3,345.9 758.6,343.0 764.3,344.4 769.1,338.7 774.3,332.4 780.0,338.1 785.1,350.1 790.0,353.9 795.7,347.3 801.4,343.6 806.3,344.4 811.4,350.1 816.6,361.6 820.6,380.1 826.3,395.0 830.9,387.3 835.7,370.1 841.4,355.9 847.1,351.6 852.9,348.1 857.7,343.9 862.9,336.1 868.6,317.3 872.9,303.0 877.7,299.0 882.9,317.3 888.0,348.7 892.9,374.4 898.6,385.9 904.3,379.6 909.4,370.1 914.3,363.6 919.4,361.0 924.3,363.0 930.0,368.1 934.3,365.0 940.0,351.6 944.9,339.6 949.4,340.7 955.1,349.6 960.0,353.6 965.7,355.0 971.4,358.7 975.7,357.3 981.4,344.4 986.3,333.9 991.4,337.9 996.6,345.9 1001.4,347.9 1006.6,348.7 1012.9,355.9 1017.1,368.7 1022.0,388.7 1027.7,403.6 1032.9,397.3 1037.1,377.3 1041.4,348.7 1045.7,327.3 1048.6,318.1 1053.4,321.6 1058.6,335.9 1063.7,343.9 1068.6,341.0 1074.3,336.1 1080.0,336.7 1085.7,340.1 1092.9,346.4 1100.0,355.0 1104.9,362.4 1110.0,373.0 1115.7,382.4 1120.6,384.7 1125.7,381.0 1130.0,373.0 1135.7,355.9 1141.4,340.1 1146.6,331.9 1151.4,333.0 1157.1,342.4 1162.9,348.7 1167.1,349.0 1172.9,352.1 1178.0,361.6 1182.9,364.4 1187.7,356.7 1192.3,353.3 1198.6,361.6 1203.7,363.0 1208.6,349.3 1213.4,336.7 1219.1,333.0 1224.3,338.7 1230.0,345.0 1235.1,347.3 1240.0,345.9 1244.9,342.4 1249.4,346.4 1255.1,360.1 1260.0,371.6 1264.9,373.3 1270.0,373.9 1275.7,378.1 1281.4,382.4 1285.7,380.1 1290.6,368.7 1295.7,351.6 1300.9,333.9 1306.6,323.6 1311.4,325.3 1316.3,335.0 1322.0,346.7 1327.7,350.1 1332.9,348.1 1338.0,346.4 1342.9,348.7 1348.6,351.6 1353.4,351.3 1358.6,347.3 1364.3,340.7 1369.4,332.4 1373.7,328.7 1378.6,333.6 1383.7,343.0 1389.4,351.0 1395.1,354.4 1400.0,355.6 1404.9,360.1 1410.0,373.0 1415.1,387.9 1420.0,396.1 1425.1,394.4 1430.0,387.3 1436.3,375.9 1442.9,361.6 1449.4,345.0 1456.3,336.7 1462.0,342.4 1467.1,351.0 1472.3,360.1 1477.1,364.7 1482.0,364.4 1487.1,358.7 1492.9,352.4 1498.6,348.7 1502.9,347.6 1507.7,345.0 1512.9,339.0 1518.0,333.9 1523.7,336.1 1529.4,341.9 1535.7,347.6 1541.4,353.3 1547.1,355.9 1554.3,351.6 1560.0,347.3 1565.7,345.3 1571.4,347.3 1578.6,355.0 1585.7,361.9 1590.9,362.4 1596.6,358.1 1602.3,353.9 1608.0,352.7 1615.7,353.3 1621.4,349.6 1627.1,346.7 1632.9,348.1 1638.6,353.9 1642.9,358.1 1647.1,360.7 1652.9,355.9 1657.7,345.9 1662.9,335.9 1668.0,334.1 1673.7,338.7 1678.6,341.9 1684.3,345.0 1690.0,353.0 1694.3,361.0 1699.4,365.0 1704.3,361.0 1709.1,355.3 1714.3,354.7 1720.0,359.0 1725.7,363.0 1731.4,365.9 1736.6,369.6 1741.4,373.9 1745.7,373.9 1750.9,367.3 1756.6,362.1 1762.3,359.3 1767.1,354.4 1772.0,347.9 1777.1,343.0 1782.3,343.0 1788.6,345.6 1795.7,345.6 1802.9,346.1 1810.0,348.1 1817.1,348.7 1824.3,350.1 1830.0,351.6 1837.1,352.1 1844.3,355.0 1848.6,354.4 1854.3,350.7 1859.4,349.3 1865.1,351.6 1870.9,353.0 1877.1,352.7 1884.3,352.4 1892.9,353.0 1898.6,352.1 1905.7,349.6 1915.7,347.6 1922.9,349.3 1931.4,352.1 1937.1,355.9 1942.9,359.6 1947.1,359.9 1952.9,357.3 1960.0,355.3 1971.4,353.6 1980.0,353.0 1987.1,355.0 1993.7,356.7 1998.6,355.0 2004.3,353.3 2010.0,355.3 2015.7,357.6 2022.9,358.4 2028.6,359.3 2034.3,361.9 2040.0,363.3 2045.7,360.7 2050.9,356.7 2057.1,353.9 2064.3,352.7 2071.4,350.7 2078.6,348.1 2085.7,346.4 2091.4,347.6 2097.1,348.1 2102.9,347.6 2107.1,346.4 2112.3,345.6" fill="none" stroke="#404040" stroke-width="2" stroke-linejoin="round"/>
<polyline points="304.3,464.4 308.6,468.4 315.7,470.1 321.4,460.7 326.3,453.6 330.9,452.7 336.6,459.3 342.9,464.7 350.0,467.9 357.1,469.3 361.4,467.3 367.1,460.1 373.7,452.7 378.6,451.3 384.3,454.4 391.4,462.1 398.6,470.7 404.3,475.6 409.1,477.9 414.3,475.6 420.0,466.4 425.7,459.3 431.4,456.4 437.1,456.4 441.4,459.3 445.7,466.4 450.0,477.9 455.7,484.1 460.6,480.7 465.7,467.9 471.4,454.4 475.7,450.7 481.4,449.9 487.1,452.7 492.0,460.1 497.1,471.6 502.3,478.4 506.3,476.7 511.4,469.9 517.7,465.0 525.7,462.1 531.4,459.9 537.1,459.3 541.4,462.1 547.1,469.3 552.9,475.6 558.6,473.6 564.3,467.0 570.0,460.7 574.9,457.0 580.0,457.3 585.7,462.1 592.9,469.9 599.4,477.0 605.1,475.0 610.9,468.1 617.1,462.4 625.7,457.9 631.4,458.7 635.7,464.4 641.4,475.0 647.1,482.7 652.9,486.4 657.1,485.6 662.9,479.3 668.6,466.4 672.9,453.6 677.7,439.3 683.4,431.6 689.1,431.3 692.9,432.1 698.6,426.4 702.9,418.7 708.0,423.6 712.9,449.3 717.1,475.0 720.6,495.0 724.3,512.1 729.1,517.0 734.3,509.3 740.0,500.7 744.3,493.9 748.6,480.7 754.3,462.1 759.4,460.7 764.3,464.1 770.0,457.9 775.7,447.9 780.9,445.0 785.7,449.9 791.4,455.6 797.7,459.3 803.4,463.0 808.6,469.3 814.3,482.1 818.6,495.0 822.9,509.3 827.1,515.9 832.9,499.3 837.1,475.0 842.9,453.6 848.0,453.6 854.3,456.4 859.4,453.0 864.3,446.4 868.6,430.7 874.3,408.7 878.6,403.6 885.1,423.6 890.0,452.1 894.3,480.7 899.4,491.6 905.7,487.3 911.4,485.0 917.1,483.6 924.3,469.3 930.0,471.6 935.7,474.4 940.9,464.1 945.7,450.1 950.9,450.4 956.3,464.1 961.4,475.0 967.1,478.4 972.3,477.9 977.1,467.9 982.0,446.4 987.1,426.4 992.3,430.7 997.1,450.7 1002.9,464.4 1007.7,466.4 1013.4,471.6 1018.6,485.0 1023.7,502.1 1028.6,514.1 1033.4,509.3 1038.6,486.4 1043.7,447.9 1049.4,423.0 1054.3,425.9 1060.0,443.6 1066.6,460.7 1070.0,463.6 1075.1,459.3 1080.9,451.6 1085.7,448.4 1091.4,453.0 1096.3,465.0 1101.4,477.0 1107.1,483.0 1112.9,487.0 1118.6,491.3 1123.4,492.1 1127.7,489.3 1132.9,482.1 1137.1,470.7 1142.9,455.9 1147.7,447.3 1152.9,450.7 1158.6,462.1 1163.7,466.4 1168.6,462.1 1173.4,462.1 1178.6,472.1 1183.7,480.7 1188.6,475.6 1193.7,469.9 1198.6,474.1 1204.3,475.9 1209.4,463.0 1214.3,452.1 1220.0,450.7 1225.7,452.7 1231.4,454.4 1237.1,457.9 1241.4,458.4 1245.7,456.4 1251.4,461.6 1256.3,476.4 1261.4,485.0 1266.6,480.7 1271.4,474.1 1276.3,477.9 1281.4,491.6 1287.1,499.3 1292.3,489.9 1297.1,469.3 1302.9,446.4 1307.7,431.6 1312.9,428.7 1318.0,445.0 1323.7,465.0 1328.6,475.0 1333.4,472.1 1339.1,461.3 1344.3,455.6 1349.4,455.0 1355.7,457.3 1361.4,457.9 1367.1,456.4 1374.3,451.6 1380.0,454.4 1385.7,461.3 1390.6,464.1 1396.3,459.6 1401.4,455.0 1405.7,455.9 1411.4,467.9 1416.3,486.4 1421.4,506.4 1426.6,515.0 1431.4,511.6 1437.1,497.9 1442.9,480.7 1448.6,463.6 1454.3,455.6 1459.1,452.7 1464.3,454.4 1469.4,459.3 1474.3,467.9 1478.6,476.4 1484.3,480.7 1488.6,476.4 1494.3,466.4 1499.4,457.9 1504.9,454.1 1511.4,452.7 1517.1,452.7 1522.9,454.4 1530.0,458.7 1535.7,461.3 1541.4,463.6 1545.7,462.1 1550.6,455.9 1555.7,449.3 1560.0,449.9 1565.7,457.9 1571.4,467.0 1576.6,473.6 1581.4,476.4 1587.1,476.7 1592.0,473.6 1597.1,464.1 1602.3,455.0 1607.4,457.9 1612.9,472.1 1618.0,480.7 1622.9,477.3 1628.6,470.1 1634.9,464.1 1642.9,458.4 1651.4,453.9 1658.6,450.7 1665.1,447.0 1668.6,447.0 1674.3,450.1 1681.4,454.1 1690.0,458.7 1694.9,459.6 1700.0,456.7 1705.7,456.4 1710.0,462.1 1715.7,474.4 1721.4,483.6 1727.1,490.7 1731.4,497.0 1736.6,497.0 1742.3,487.9 1748.6,477.9 1754.3,467.0 1760.0,457.3 1762.9,453.6 1767.1,453.0 1772.9,457.9 1778.6,465.0 1782.9,468.1 1788.0,467.0 1793.7,461.3 1799.4,455.0 1804.3,450.1 1809.4,447.9 1814.3,450.1 1820.0,457.9 1825.7,465.9 1831.4,472.1 1835.7,475.6 1840.9,477.0 1845.7,475.6 1850.9,472.1 1855.7,466.4 1860.6,459.3 1865.7,451.3 1870.0,450.7 1875.1,457.9 1880.6,467.9 1885.7,475.6 1891.4,478.4 1896.6,479.0 1901.4,477.3 1907.1,467.9 1912.0,457.0 1917.1,449.9 1922.3,449.9 1927.1,456.4 1932.9,467.9 1938.6,475.6 1942.9,477.3 1948.0,475.6 1953.7,468.4 1958.6,460.1 1963.4,455.9 1969.1,458.4 1974.9,465.9 1980.0,473.6 1984.9,478.4 1989.4,478.4 1994.3,471.6 1999.4,462.1 2004.3,457.0 2009.1,456.1 2014.9,457.6 2020.6,462.1 2026.3,475.6 2031.4,493.6 2036.3,502.1 2041.4,495.6 2045.7,480.7 2050.9,460.7 2056.3,441.6 2061.4,436.1 2066.3,443.6 2072.0,456.4 2077.7,467.0 2082.9,473.0 2088.0,475.9 2092.9,473.0 2098.6,462.1 2104.3,448.7 2108.6,440.7 2112.3,437.9" fill="none" stroke="#404040" stroke-width="2" stroke-linejoin="round"/>
<polyline points="304.3,587.0 308.0,588.4 312.9,584.7 318.6,574.1 323.4,569.3 328.6,575.6 333.7,580.7 338.6,577.9 344.3,572.7 350.0,573.3 355.7,576.1 360.0,575.6 365.1,571.3 370.0,569.9 375.7,574.4 381.4,579.0 385.7,579.3 391.4,576.4 398.6,573.3 405.7,572.4 414.3,572.7 417.7,575.6 422.3,584.1 427.1,592.1 432.0,591.3 437.1,582.7 442.9,577.9 448.6,575.6 454.3,570.4 458.6,567.6 462.9,568.4 468.6,578.4 473.7,587.0 478.6,588.4 484.3,583.6 490.0,577.0 495.7,573.3 503.4,573.9 510.0,575.0 514.3,577.9 520.0,585.6 525.1,588.7 530.0,581.9 535.7,572.1 541.4,569.9 548.6,571.6 555.7,572.1 561.4,574.1 567.1,575.6 571.4,573.3 576.6,573.9 581.4,578.4 587.1,584.1 592.9,581.9 598.6,578.4 604.3,575.6 610.0,573.6 614.3,574.1 620.0,582.7 625.7,591.9 631.4,595.0 636.6,588.4 642.9,577.0 648.6,572.7 654.3,576.1 660.0,580.7 664.3,581.3 670.0,577.0 677.1,572.1 682.9,569.3 688.0,564.1 692.9,555.6 697.1,539.9 701.4,522.7 705.7,515.6 711.4,535.6 715.7,564.1 720.0,595.6 724.3,617.0 727.1,627.0 731.4,629.3 736.6,618.4 742.3,601.3 747.1,588.4 754.3,578.4 758.6,571.3 762.9,559.9 768.6,550.4 774.3,554.1 780.0,565.6 785.1,577.9 789.1,587.0 794.3,590.7 800.0,587.6 805.7,581.3 810.9,578.4 815.7,580.7 820.0,589.9 825.1,607.0 830.9,613.6 835.7,597.0 840.6,572.7 846.3,559.0 850.9,565.6 855.7,575.6 861.4,570.4 867.1,547.0 872.0,531.3 876.6,527.0 881.4,534.1 887.1,559.9 892.0,585.6 897.1,604.7 902.3,607.9 907.1,604.1 912.3,596.1 917.1,585.6 923.4,576.1 928.6,580.7 930.0,584.7 933.4,593.3 938.0,595.0 943.7,584.1 949.4,574.1 954.3,569.9 959.4,571.9 964.3,578.4 969.4,581.3 974.3,572.1 980.0,555.6 985.1,545.0 990.0,547.0 995.1,562.7 1000.0,579.9 1004.9,585.6 1010.6,583.6 1015.7,590.4 1020.9,608.4 1026.6,625.6 1031.4,620.4 1036.3,597.0 1041.4,568.4 1046.6,551.3 1051.4,551.3 1055.7,557.0 1062.0,568.4 1066.6,572.7 1072.3,565.6 1077.1,551.3 1082.9,544.1 1087.7,557.9 1092.9,582.7 1098.6,600.7 1103.7,597.9 1108.9,585.6 1113.4,587.6 1118.6,599.3 1124.3,602.7 1129.4,594.1 1135.1,579.9 1140.9,567.0 1145.7,557.6 1150.0,556.1 1155.7,568.4 1160.9,579.3 1165.7,581.3 1171.4,574.7 1177.1,569.9 1181.4,569.9 1187.1,577.9 1192.3,589.9 1197.1,598.4 1201.4,597.0 1207.1,585.6 1212.9,574.1 1219.1,565.0 1224.3,557.0 1229.4,552.7 1234.3,552.1 1238.6,554.7 1243.7,564.1 1248.6,582.7 1253.7,604.1 1258.6,617.0 1264.3,609.3 1269.4,591.3 1274.3,581.9 1279.1,585.6 1284.3,588.4 1289.4,578.4 1294.3,566.1 1300.0,562.7 1304.9,572.7 1310.0,582.7 1315.1,584.1 1320.0,577.0 1325.7,570.4 1331.4,567.6 1337.1,563.6 1342.0,557.6 1347.1,554.1 1352.3,557.9 1358.0,567.9 1363.7,577.0 1369.4,581.3 1376.3,583.0 1382.0,581.3 1387.1,574.1 1392.3,562.7 1398.0,555.9 1403.7,560.7 1407.7,575.6 1412.9,598.4 1418.6,611.9 1423.7,611.9 1429.4,607.0 1435.1,604.7 1440.0,602.7 1445.7,595.0 1450.6,584.1 1456.3,575.6 1461.4,570.7 1465.7,566.1 1470.6,565.6 1475.7,572.1 1480.9,580.7 1486.3,585.3 1491.4,585.0 1497.1,578.4 1502.0,571.6 1507.1,566.4 1512.9,560.7 1518.0,555.0 1523.7,557.3 1528.6,572.7 1532.9,586.4 1538.6,587.0 1543.7,579.9 1549.4,576.7 1555.7,576.4 1560.0,573.6 1564.3,570.7 1569.1,569.9 1574.3,576.1 1579.4,582.7 1585.1,584.1 1590.0,583.3 1595.7,584.4 1600.6,584.7 1605.7,580.7 1610.9,575.6 1615.7,575.0 1620.9,579.9 1625.7,579.0 1630.9,572.7 1635.7,572.1 1641.4,578.4 1645.7,579.9 1650.9,576.4 1656.6,570.7 1662.3,566.1 1670.0,562.7 1677.1,560.1 1682.3,562.4 1688.0,569.3 1692.9,574.1 1698.0,573.3 1702.9,570.4 1708.0,571.9 1712.9,579.0 1718.6,587.0 1724.3,590.4 1730.0,591.3 1734.9,594.1 1740.0,599.0 1744.3,600.1 1750.0,596.1 1754.9,587.6 1760.0,579.0 1765.1,577.9 1770.0,581.3 1774.9,580.7 1780.0,575.6 1785.7,571.3 1790.9,572.1 1796.6,574.1 1804.3,572.7 1810.0,574.1 1816.6,576.4 1822.3,576.7 1827.1,578.4 1832.0,585.3 1837.1,587.6 1842.3,577.0 1847.1,567.0 1852.9,563.9 1858.6,564.7 1863.4,563.0 1868.6,561.9 1873.7,569.9 1878.6,582.7 1884.3,591.0 1888.6,589.9 1894.3,582.7 1899.4,577.9 1904.3,574.7 1909.1,569.0 1914.9,559.9 1920.0,555.6 1925.7,561.9 1930.9,572.7 1936.6,581.3 1941.4,585.6 1945.7,587.0 1950.9,582.7 1955.7,576.1 1961.4,573.6 1967.1,575.6 1972.9,575.0 1977.7,573.3 1982.9,577.0 1988.0,583.6 1992.9,586.4 1998.6,585.6 2003.7,582.7 2008.6,579.9 2013.7,581.3 2018.6,587.0 2023.4,593.9 2028.0,593.3 2032.9,587.0 2038.6,581.3 2044.3,580.4 2049.1,579.3 2054.3,577.0 2060.0,573.6 2065.7,569.3 2071.4,566.1 2075.7,566.4 2080.0,569.9 2085.7,577.0 2090.9,582.7 2095.7,582.4 2101.4,576.1 2106.3,570.4 2112.3,566.4" fill="none" stroke="#404040" stroke-width="2" stroke-linejoin="round"/>
<polyline points="304.3,689.9 310.0,693.3 317.1,694.7 324.3,694.1 331.4,691.0 338.6,687.0 344.3,682.7 350.0,682.7 355.7,689.0 360.6,694.1 365.7,693.3 371.4,687.6 376.6,682.4 381.4,680.4 385.7,683.9 390.9,692.4 396.6,701.9 401.4,700.1 407.1,693.3 414.3,686.1 420.0,680.4 425.7,675.3 430.9,675.6 435.7,681.9 441.4,696.1 447.1,706.7 452.9,706.1 458.6,698.4 464.3,687.6 470.9,675.6 476.6,669.0 480.6,670.4 485.1,677.6 490.0,689.0 494.9,696.7 500.0,697.9 505.1,697.6 510.0,699.9 514.9,703.3 520.0,699.6 524.3,689.9 528.6,680.4 532.9,674.7 536.6,673.3 542.3,676.7 548.0,684.7 552.9,694.1 557.1,697.6 562.3,697.6 567.1,695.6 574.3,693.3 581.4,691.0 587.1,689.3 592.0,688.4 597.7,689.9 603.4,692.7 608.6,691.9 613.7,688.4 618.6,689.9 624.3,697.6 630.0,702.4 634.9,703.0 640.6,700.4 647.1,696.1 652.9,693.3 659.4,692.1 665.1,689.0 671.4,682.4 678.6,674.1 685.7,667.0 690.9,663.3 695.7,656.7 701.4,645.6 706.3,642.4 711.4,651.9 715.7,669.0 720.0,693.3 724.3,719.0 728.0,736.1 732.9,744.7 738.0,740.4 743.4,724.7 748.0,704.7 753.7,683.3 758.6,676.1 763.4,682.4 769.1,686.4 774.3,679.9 778.9,677.6 783.4,689.9 789.1,700.4 794.3,691.9 799.4,683.3 805.7,685.6 810.9,688.1 815.7,689.3 820.6,697.6 825.1,707.6 830.9,706.7 835.7,704.1 840.9,707.6 845.7,708.4 851.4,703.9 856.6,697.6 860.6,684.7 865.1,664.7 870.0,644.7 872.9,631.9 877.1,628.1 882.3,647.6 887.1,683.3 892.0,721.9 897.1,727.0 902.3,706.1 907.1,683.3 912.9,674.1 918.6,677.0 924.3,683.6 930.0,700.4 934.3,709.9 939.1,712.7 944.3,704.7 949.4,697.6 954.3,698.4 959.4,699.6 964.9,691.9 970.0,680.4 975.1,673.3 980.0,671.3 984.9,673.9 990.0,686.1 995.7,702.4 1000.9,707.6 1005.7,703.9 1011.4,700.1 1018.6,699.0 1025.7,697.6 1032.3,698.1 1037.1,695.3 1042.9,686.1 1047.7,680.4 1053.4,677.9 1058.6,675.6 1067.1,673.9 1072.3,670.4 1078.0,665.6 1083.7,672.7 1088.6,687.0 1094.3,696.1 1099.1,694.7 1104.3,699.0 1109.4,714.7 1114.3,723.9 1119.1,714.7 1124.9,699.0 1130.0,692.7 1135.1,695.6 1140.0,695.6 1144.9,688.1 1150.0,677.6 1155.7,666.1 1160.9,663.3 1165.7,670.4 1171.4,684.7 1176.3,697.6 1182.0,704.7 1187.1,705.3 1192.3,702.4 1197.1,699.6 1202.0,700.7 1207.1,700.4 1212.3,689.9 1217.1,674.7 1222.9,666.1 1228.6,670.4 1233.4,676.1 1238.6,676.1 1243.7,676.7 1249.4,684.1 1254.3,700.4 1259.1,716.7 1264.3,726.1 1269.4,722.4 1275.1,710.4 1280.9,696.7 1286.6,686.1 1292.3,676.1 1297.1,667.6 1301.4,661.3 1306.6,663.3 1311.4,673.3 1316.3,687.6 1321.4,701.9 1326.6,709.0 1331.4,704.1 1336.3,691.9 1341.4,681.9 1347.1,676.7 1352.3,674.1 1357.1,672.7 1362.0,676.1 1367.1,683.9 1372.3,685.6 1378.0,679.9 1382.9,676.4 1388.6,679.9 1393.4,686.1 1399.1,693.3 1404.3,701.9 1409.4,711.9 1414.9,719.0 1419.1,717.6 1424.3,709.0 1430.0,699.6 1435.1,697.6 1440.0,699.0 1444.9,696.1 1450.6,687.6 1456.3,682.4 1461.4,681.9 1467.1,682.4 1472.9,686.1 1479.1,690.4 1485.7,693.9 1491.4,691.6 1496.3,681.9 1502.0,672.4 1507.1,672.7 1512.9,679.9 1518.6,683.9 1524.3,685.6 1530.0,686.1 1535.7,684.7 1541.4,683.9 1546.6,687.6 1552.9,699.0 1557.1,699.9 1560.0,699.0 1564.3,689.0 1570.0,679.0 1574.9,674.7 1581.4,674.4 1589.1,674.7 1594.3,683.3 1600.0,700.4 1605.1,715.6 1610.3,719.9 1615.1,713.3 1620.9,700.4 1626.3,689.0 1631.4,680.4 1635.7,675.0 1641.4,678.1 1646.6,684.7 1651.4,686.7 1657.1,687.6 1662.3,692.4 1667.1,697.0 1672.0,692.4 1677.1,681.9 1682.9,675.6 1688.0,676.1 1692.9,681.9 1698.6,688.4 1708.0,689.0 1714.3,692.7 1720.0,694.7 1727.1,696.1 1732.9,701.9 1739.4,707.6 1745.1,706.7 1750.0,702.4 1755.7,701.0 1762.9,699.6 1769.1,695.3 1775.7,689.3 1781.4,687.9 1787.1,690.4 1792.0,691.6 1798.6,688.4 1805.7,683.3 1811.4,677.6 1816.6,673.9 1822.3,677.0 1828.0,687.0 1832.9,691.9 1841.4,690.4 1850.0,690.4 1858.6,689.9 1865.7,692.4 1873.7,696.1 1878.6,693.9 1883.4,687.0 1889.1,680.1 1894.9,678.4 1905.1,681.6 1915.7,681.9 1920.6,687.0 1926.3,692.7 1930.9,693.3 1935.7,689.9 1941.4,686.1 1946.3,684.7 1951.4,688.1 1956.6,694.7 1962.3,699.6 1966.3,699.9 1971.4,696.1 1977.1,687.6 1982.9,681.0 1987.1,681.6 1992.0,687.9 1997.7,693.9 2004.3,696.1 2012.9,698.1 2018.6,693.3 2023.4,683.3 2028.6,677.9 2034.3,685.6 2039.4,698.1 2044.3,702.4 2049.1,698.1 2054.9,694.4 2060.6,693.6 2065.7,689.6 2071.4,684.1 2075.7,684.1 2080.6,689.0 2085.7,694.7 2090.9,693.9 2095.7,688.1 2101.4,681.9 2107.1,679.6 2112.3,679.6" fill="none" stroke="#404040" stroke-width="2" stroke-linejoin="round"/>
<polyline points="304.3,799.6 309.1,811.6 314.9,825.3 320.0,830.4 325.7,819.6 330.9,802.4 336.6,789.6 341.4,779.6 346.3,771.9 351.4,774.4 356.6,795.3 361.4,818.1 367.1,831.0 372.0,829.6 377.7,816.7 382.9,796.7 387.1,783.9 392.9,776.1 397.7,778.7 402.9,783.9 408.6,792.4 413.7,803.9 419.4,813.0 424.3,817.3 429.1,823.0 434.3,830.4 440.0,822.4 445.1,802.4 450.0,791.0 457.1,789.6 462.9,787.6 468.6,788.1 472.9,800.1 477.1,809.6 480.6,815.3 485.7,813.9 490.9,809.0 496.6,799.0 501.4,790.4 506.3,789.6 512.0,792.4 518.6,795.9 522.9,800.1 527.1,805.3 532.9,803.9 537.1,802.4 542.9,808.1 548.0,812.7 552.9,813.9 557.1,806.7 562.9,793.9 568.6,792.1 573.7,802.4 579.4,810.4 584.3,809.9 590.0,808.7 594.3,809.6 599.4,809.0 604.3,805.3 609.1,802.4 614.3,802.4 620.0,802.4 625.7,798.1 630.9,795.9 635.7,800.4 640.6,805.3 646.3,804.7 651.4,801.6 657.1,803.0 662.3,806.7 667.1,804.7 672.3,796.7 677.7,788.7 683.4,784.7 688.6,781.0 692.9,775.3 697.7,763.0 702.9,753.3 708.0,761.0 713.7,788.1 718.0,816.7 722.3,838.1 728.6,863.0 734.3,855.3 739.4,831.0 744.3,809.6 749.1,799.0 754.3,802.4 760.0,805.3 765.1,801.0 770.0,792.4 775.7,781.9 780.9,783.3 785.1,793.9 790.9,795.6 795.7,788.1 800.6,788.7 805.7,801.9 811.4,810.4 816.6,812.4 822.3,822.4 827.1,831.6 832.0,823.9 837.1,806.1 842.3,801.9 848.0,809.6 853.7,816.1 858.6,818.1 863.4,810.4 868.0,788.1 872.9,761.0 877.7,741.0 883.4,749.6 888.6,786.7 894.3,822.4 899.1,841.0 905.1,822.4 910.0,795.3 914.9,785.3 920.0,793.9 925.7,801.9 930.0,805.3 935.1,809.6 940.0,803.9 944.9,788.1 950.0,778.1 955.7,793.9 960.9,821.0 965.7,833.3 971.4,826.7 976.6,812.4 982.0,796.1 987.1,783.3 992.3,785.3 997.1,795.3 1002.9,801.9 1008.6,808.7 1013.4,815.3 1018.6,825.3 1023.7,839.6 1028.6,844.7 1033.4,829.6 1038.6,802.4 1043.7,773.9 1048.6,753.9 1053.7,750.1 1058.6,766.7 1063.7,785.9 1069.4,795.9 1074.3,800.1 1081.4,803.0 1086.6,803.9 1091.4,804.7 1095.7,802.4 1100.9,796.1 1105.7,797.6 1110.6,808.7 1115.7,819.6 1121.4,825.3 1126.6,825.9 1131.4,822.4 1136.3,819.0 1142.0,821.0 1147.1,821.3 1152.3,802.4 1157.1,775.3 1162.3,764.4 1167.7,776.1 1172.9,793.9 1178.6,811.0 1183.7,823.9 1188.6,830.1 1192.9,829.0 1198.0,821.0 1203.7,802.4 1209.4,785.9 1214.3,775.3 1220.0,772.4 1224.3,774.4 1229.4,781.0 1234.3,789.6 1240.0,798.1 1245.7,801.0 1251.4,804.4 1256.3,811.6 1260.9,819.6 1265.7,822.4 1270.6,815.3 1275.7,805.3 1281.4,804.7 1286.6,809.0 1291.4,802.4 1296.3,785.9 1302.0,778.1 1307.1,787.3 1312.9,796.1 1318.0,801.9 1322.9,812.4 1327.7,825.3 1332.9,826.1 1338.0,813.9 1342.9,796.7 1348.6,781.0 1353.4,778.7 1358.6,786.7 1364.3,797.6 1369.4,803.9 1374.3,801.0 1380.0,791.9 1385.7,785.9 1390.6,783.9 1396.3,786.7 1401.4,794.4 1406.6,804.7 1411.4,816.7 1415.7,828.1 1420.9,836.7 1426.6,838.1 1431.4,837.6 1436.3,834.4 1441.4,823.9 1446.6,806.7 1452.3,782.4 1457.1,771.6 1462.0,769.0 1467.7,779.6 1472.9,802.4 1478.0,826.7 1482.9,833.9 1488.0,821.0 1492.9,799.6 1498.0,783.9 1503.7,773.9 1508.6,770.4 1514.3,772.4 1519.1,785.3 1524.3,808.1 1529.4,822.4 1535.1,819.6 1540.9,805.3 1545.7,785.9 1550.0,769.6 1555.7,766.1 1560.0,775.3 1565.7,793.9 1570.9,811.0 1575.7,823.0 1580.9,829.6 1586.3,824.4 1591.4,806.7 1596.3,792.4 1601.4,791.9 1607.1,798.7 1612.9,806.7 1618.6,812.4 1622.9,815.6 1628.0,822.4 1632.9,831.9 1637.7,823.0 1642.9,798.1 1648.0,781.9 1652.9,776.7 1658.6,767.6 1663.4,762.1 1668.6,775.3 1673.7,798.1 1678.6,817.3 1684.3,828.1 1689.4,826.4 1694.3,810.4 1699.4,793.0 1705.1,786.4 1710.0,789.3 1715.7,794.4 1721.4,799.6 1725.7,804.4 1730.9,814.7 1735.7,823.9 1740.6,819.6 1746.3,810.1 1752.0,804.7 1757.1,799.0 1761.4,793.9 1766.3,795.9 1772.0,803.0 1777.7,809.6 1782.9,813.9 1787.1,814.4 1792.0,809.6 1797.7,798.1 1802.9,788.1 1808.0,786.1 1812.9,791.0 1818.6,801.9 1823.4,813.9 1828.6,819.6 1833.7,809.0 1839.4,795.3 1844.3,789.9 1850.0,787.6 1854.9,788.4 1860.0,793.0 1865.1,793.0 1870.0,789.9 1874.9,795.3 1880.0,807.3 1885.1,811.9 1890.0,806.7 1895.7,799.6 1900.6,801.3 1906.3,808.7 1910.9,801.9 1915.7,783.3 1921.4,775.9 1927.1,789.6 1932.3,805.3 1937.1,811.0 1944.3,812.4 1952.9,813.9 1957.1,811.6 1962.9,804.7 1968.6,801.9 1973.7,801.9 1978.6,793.9 1983.7,779.6 1988.6,781.9 1993.7,802.4 1998.6,823.0 2003.7,825.9 2009.1,817.6 2014.3,815.9 2020.0,820.4 2025.1,813.3 2030.9,792.4 2035.7,780.1 2040.9,785.9 2045.7,798.7 2050.9,798.7 2055.7,789.6 2061.4,795.3 2066.3,813.9 2071.4,818.1 2076.6,802.4 2082.3,788.1 2087.1,783.3 2092.0,785.9 2097.1,798.7 2102.9,804.7 2108.0,799.6 2112.3,800.1" fill="none" stroke="#404040" stroke-width="2" stroke-linejoin="round"/>
<polyline points="304.3,913.3 308.6,915.0 312.9,918.7 317.7,919.3 322.3,915.0 327.1,913.0 330.0,913.6 335.7,916.7 340.0,917.3 345.7,915.6 352.9,913.9 360.0,908.7 365.7,910.1 371.4,915.0 377.7,915.9 382.9,916.4 387.1,919.6 392.0,917.3 396.6,908.7 401.4,911.0 406.3,923.6 411.4,930.1 416.6,922.4 421.4,915.0 427.1,914.4 432.9,913.9 437.7,911.6 442.9,913.6 448.0,915.9 452.9,911.6 458.6,907.3 464.3,908.1 470.0,910.4 474.9,910.1 480.6,906.4 485.7,903.6 490.0,905.9 494.9,913.9 500.0,920.7 505.1,918.1 510.9,912.1 515.7,912.4 521.4,915.0 527.1,915.9 532.0,913.0 537.1,910.7 545.1,910.1 550.0,905.9 556.6,901.6 561.4,906.4 567.1,912.4 572.0,915.0 576.6,914.4 582.9,910.7 588.0,911.6 592.9,920.1 597.7,922.4 603.4,915.9 608.6,913.9 614.3,915.9 620.0,915.3 624.3,917.3 630.0,923.0 634.9,925.9 640.0,924.4 645.7,921.6 650.9,922.4 655.7,924.4 661.4,924.4 667.1,923.0 671.4,919.3 676.6,908.7 684.3,894.4 689.1,887.3 694.3,868.7 700.6,857.9 705.7,873.0 711.4,903.0 715.7,930.1 721.4,948.7 727.1,963.0 732.0,967.9 737.1,955.9 742.3,931.0 747.1,913.9 752.9,911.6 757.1,907.3 762.3,898.1 767.7,895.3 772.9,901.6 778.0,911.6 783.4,921.6 789.1,928.1 794.3,921.6 800.0,913.9 805.1,912.1 810.0,910.1 814.9,906.7 820.0,913.9 825.1,925.9 830.0,925.9 835.1,913.0 840.0,900.7 845.1,897.9 850.0,906.4 855.7,921.6 861.4,928.7 866.3,917.3 871.4,888.7 876.6,863.0 881.4,852.4 887.1,870.1 892.9,907.3 897.1,934.4 902.9,929.6 908.0,915.0 912.9,914.4 918.0,924.4 922.9,938.7 928.6,951.6 930.0,953.9 933.4,956.7 938.6,948.7 943.7,931.6 948.6,913.0 953.4,899.6 958.6,896.7 964.3,902.4 970.0,906.7 974.3,905.9 980.0,897.9 985.7,890.7 990.6,889.3 996.3,891.6 1001.4,900.1 1006.6,915.0 1011.4,923.0 1016.3,925.3 1021.4,933.0 1026.6,945.3 1031.4,945.9 1036.3,931.6 1041.4,914.4 1047.1,904.4 1052.9,897.9 1058.6,894.7 1064.3,894.4 1068.6,893.9 1072.9,891.9 1078.0,893.0 1084.3,905.9 1089.4,921.6 1094.3,931.0 1099.1,930.7 1104.3,922.1 1109.4,917.3 1114.3,924.4 1119.1,936.4 1124.3,940.1 1129.4,929.3 1135.1,913.9 1140.9,906.4 1146.6,905.9 1152.9,907.3 1158.6,911.6 1163.7,915.3 1168.6,915.9 1172.9,904.4 1177.1,892.4 1181.4,896.7 1187.1,913.9 1192.3,924.4 1197.1,921.6 1202.9,910.1 1207.7,905.0 1213.4,907.3 1218.6,911.0 1223.7,908.7 1228.6,903.6 1233.4,903.9 1238.6,905.9 1244.3,901.6 1249.4,906.4 1254.3,925.9 1259.1,943.0 1264.3,937.9 1269.4,920.7 1274.3,913.0 1280.0,916.7 1285.7,919.6 1290.6,912.1 1295.1,908.1 1300.0,915.0 1305.7,925.9 1310.6,923.0 1315.7,910.1 1320.9,903.9 1325.7,903.3 1331.4,903.9 1337.1,908.1 1342.0,912.4 1347.1,911.0 1352.3,909.9 1357.1,912.1 1362.9,914.4 1367.7,914.4 1373.4,912.7 1378.0,913.3 1382.9,911.0 1388.6,900.7 1393.4,892.7 1399.1,896.7 1404.3,906.4 1409.4,913.0 1414.3,921.6 1419.1,935.3 1424.3,946.7 1428.6,947.3 1434.3,943.6 1440.0,942.4 1444.9,938.7 1450.0,925.9 1455.7,907.3 1460.9,902.4 1465.7,908.1 1470.6,910.1 1475.7,903.0 1480.9,899.6 1486.6,907.6 1492.3,913.9 1497.1,914.4 1502.9,909.9 1508.6,906.7 1514.3,905.9 1518.6,903.0 1522.9,901.9 1528.0,913.0 1532.9,923.6 1538.0,927.3 1543.7,918.7 1548.6,908.7 1552.9,907.6 1557.7,914.4 1560.0,917.3 1563.4,921.6 1568.6,915.9 1574.3,911.6 1579.4,910.7 1585.1,906.7 1590.0,905.0 1594.9,912.1 1600.0,921.6 1605.1,920.1 1610.0,904.4 1615.7,891.6 1620.6,897.3 1626.3,914.4 1631.4,920.7 1636.6,908.7 1641.4,898.1 1646.6,903.0 1652.0,913.9 1657.7,916.4 1662.9,917.3 1667.1,918.7 1672.9,914.4 1677.7,905.9 1682.9,898.1 1688.0,895.3 1692.9,899.3 1698.6,907.9 1704.3,910.7 1709.1,908.7 1713.7,908.7 1718.6,913.3 1723.4,923.0 1729.1,933.9 1734.3,933.0 1739.4,926.7 1745.1,929.6 1750.0,937.3 1754.9,939.3 1760.0,932.4 1765.1,918.1 1770.9,903.9 1775.7,897.0 1780.6,896.7 1786.3,906.7 1791.4,920.1 1796.6,929.6 1801.4,928.1 1807.1,918.1 1812.0,910.1 1817.7,906.7 1823.4,907.3 1828.6,909.6 1833.7,909.0 1839.4,904.4 1843.7,900.1 1848.0,898.7 1852.9,903.9 1858.6,915.9 1862.9,918.7 1868.0,908.1 1873.7,902.4 1879.4,912.1 1884.3,919.3 1890.0,921.0 1895.7,919.0 1900.6,917.6 1906.3,914.4 1911.4,911.6 1917.1,910.7 1921.4,908.7 1925.7,905.9 1930.9,910.1 1935.7,920.1 1940.6,920.1 1945.7,912.1 1950.9,912.1 1955.7,919.6 1961.4,920.1 1966.3,912.1 1971.4,907.9 1976.6,910.1 1982.3,915.3 1987.1,920.1 1992.9,921.6 1997.7,919.6 2002.9,920.1 2008.6,924.4 2014.3,926.7 2020.6,925.3 2027.1,922.1 2034.3,919.3 2040.0,916.1 2045.7,913.3 2052.0,911.9 2059.4,912.1 2064.3,915.9 2070.0,921.0 2074.9,916.4 2080.0,905.3 2085.7,901.3 2090.9,907.9 2095.7,916.4 2100.6,916.7 2106.3,909.6 2112.3,905.0" fill="none" stroke="#404040" stroke-width="2" stroke-linejoin="round"/>
<polyline points="304.3,1042.1 306.3,1043.0 311.4,1025.0 316.6,1010.7 322.3,1012.1 327.1,1015.0 332.9,1017.0 337.7,1023.6 342.9,1033.6 348.0,1036.4 352.9,1026.4 358.6,1017.3 363.4,1015.0 368.6,1019.3 373.7,1024.4 378.6,1025.0 383.4,1017.9 389.1,1012.1 394.3,1020.1 399.4,1031.3 405.1,1035.0 410.0,1030.7 414.9,1026.4 420.0,1027.0 425.7,1030.7 430.9,1032.7 435.7,1031.6 441.4,1035.0 446.3,1039.9 450.9,1035.0 455.7,1021.3 461.4,1021.3 466.3,1031.6 471.4,1027.0 476.6,1009.9 481.4,1006.4 486.3,1023.6 492.0,1043.0 497.1,1043.6 502.3,1035.6 508.0,1029.3 514.3,1024.4 519.4,1019.9 524.3,1016.4 528.6,1018.4 533.7,1029.3 539.4,1037.3 545.1,1035.0 550.0,1029.3 554.9,1030.7 560.0,1033.6 564.3,1025.0 570.0,1015.6 574.9,1019.3 580.0,1026.4 585.7,1022.4 590.9,1018.7 595.7,1025.0 601.4,1034.1 607.1,1037.9 612.0,1039.9 616.6,1039.3 621.4,1033.6 626.3,1030.1 632.0,1033.0 638.6,1034.1 642.9,1034.4 648.0,1037.3 652.9,1035.6 657.7,1028.4 663.4,1022.1 668.6,1018.4 673.7,1012.7 678.6,1006.4 684.3,998.4 689.1,993.6 694.3,991.0 699.4,987.3 704.3,984.1 709.1,986.4 713.7,1003.6 717.7,1029.3 721.4,1052.1 725.1,1070.7 730.0,1080.7 735.7,1083.0 740.6,1086.4 745.7,1081.3 750.0,1057.9 754.3,1029.3 758.0,1002.1 761.4,984.1 765.7,992.1 770.9,1004.1 776.6,1002.1 782.3,1000.7 787.1,1005.0 792.9,1008.4 797.7,1010.7 802.3,1011.6 807.1,1005.9 812.9,1010.7 817.7,1039.3 822.9,1071.6 828.0,1065.0 832.9,1032.1 837.7,1017.9 843.4,1025.0 848.6,1024.1 854.3,1016.4 859.4,1014.1 864.3,1005.9 868.6,987.9 874.3,970.1 880.0,980.7 885.1,997.9 890.9,1017.9 895.7,1046.4 900.0,1065.0 905.1,1076.4 910.6,1060.7 915.7,1030.7 920.9,1006.4 925.7,1009.9 930.0,1022.1 935.7,1020.7 941.4,1011.6 946.6,1018.4 952.3,1040.7 957.1,1048.7 962.0,1037.9 967.7,1027.9 972.9,1025.9 978.0,1017.9 982.9,1003.6 988.6,995.0 993.4,999.3 998.6,1010.7 1003.7,1023.0 1008.6,1036.4 1013.4,1055.0 1019.1,1075.0 1024.3,1075.0 1029.4,1062.1 1034.3,1045.0 1039.1,1012.1 1044.3,979.3 1050.0,971.6 1055.7,1000.7 1060.9,1029.3 1066.6,1033.6 1071.4,1029.9 1076.3,1036.4 1081.4,1045.6 1086.6,1041.3 1091.4,1020.7 1096.6,1014.1 1101.4,1036.4 1107.1,1059.3 1112.3,1070.1 1117.1,1071.6 1122.9,1060.7 1127.7,1040.7 1132.9,1020.7 1138.0,1007.9 1143.7,1001.3 1148.6,1002.7 1153.4,1019.3 1158.6,1035.6 1163.7,1035.6 1169.4,1027.9 1174.3,1029.3 1179.1,1035.6 1184.9,1030.7 1190.0,1016.4 1195.1,1008.7 1201.4,1012.7 1207.1,1015.6 1211.4,1017.9 1215.7,1023.6 1220.9,1022.4 1225.7,1013.0 1230.6,1010.4 1235.7,1018.7 1241.4,1022.1 1246.6,1015.0 1251.4,1014.4 1256.3,1027.3 1261.4,1035.0 1267.1,1039.3 1272.3,1049.3 1278.0,1062.1 1283.7,1068.7 1288.6,1075.0 1292.9,1075.0 1298.0,1046.4 1302.9,1010.7 1308.6,985.0 1313.7,977.3 1319.1,995.6 1324.3,1025.9 1329.4,1033.6 1334.3,1025.0 1339.1,1020.7 1344.3,1019.3 1350.0,1008.7 1355.1,1003.0 1360.0,1011.6 1365.1,1018.4 1370.0,1010.7 1375.1,1001.3 1380.9,1004.1 1385.7,1019.3 1391.4,1037.9 1396.3,1049.9 1401.4,1048.4 1406.6,1032.1 1412.0,1025.0 1417.1,1035.0 1422.0,1045.0 1427.7,1052.7 1432.3,1061.3 1437.1,1061.3 1442.3,1036.4 1447.7,1016.4 1453.4,1012.7 1459.1,1020.7 1464.3,1023.6 1469.4,1027.0 1474.3,1035.6 1479.1,1044.1 1484.3,1039.9 1489.4,1030.1 1495.1,1023.6 1500.0,1020.1 1505.7,1013.6 1510.6,1002.1 1515.1,989.9 1520.0,987.3 1525.1,997.9 1530.6,1012.1 1535.7,1020.1 1541.4,1025.9 1546.6,1032.1 1551.4,1035.0 1557.1,1022.1 1560.0,1016.4 1562.3,1011.6 1567.1,1011.6 1572.9,1018.7 1577.7,1022.7 1582.9,1024.4 1588.0,1025.9 1592.9,1029.9 1597.1,1030.1 1602.9,1025.0 1608.0,1026.4 1613.4,1034.1 1618.6,1032.1 1623.4,1020.7 1628.6,1012.1 1634.3,1017.0 1639.4,1024.4 1644.3,1023.0 1650.0,1019.6 1654.3,1021.3 1659.4,1017.3 1665.1,1008.7 1670.0,1009.9 1674.9,1017.9 1680.6,1021.6 1685.7,1019.3 1690.9,1021.6 1696.6,1028.4 1701.4,1029.3 1706.3,1028.4 1711.4,1037.9 1716.6,1051.6 1721.7,1059.9 1727.1,1056.4 1732.3,1048.4 1737.7,1046.7 1742.9,1046.4 1748.0,1034.4 1753.4,1020.7 1757.7,1020.7 1763.4,1032.1 1768.6,1042.7 1773.7,1042.7 1778.6,1027.3 1783.4,1003.6 1788.6,990.7 1793.7,996.4 1799.4,1004.1 1805.1,1006.4 1810.9,1009.9 1816.6,1016.4 1822.3,1024.1 1827.1,1031.6 1830.9,1035.9 1835.7,1035.9 1840.6,1030.1 1845.7,1025.9 1851.4,1025.9 1856.6,1027.3 1861.4,1031.3 1866.6,1037.3 1871.4,1035.6 1876.6,1030.7 1882.3,1028.4 1887.1,1025.3 1892.9,1021.9 1897.7,1025.9 1902.3,1023.6 1907.1,1005.0 1912.9,993.6 1918.6,1009.9 1923.4,1029.3 1928.6,1031.3 1933.7,1023.6 1938.6,1023.6 1944.3,1025.9 1949.1,1024.4 1954.9,1021.3 1959.4,1021.9 1965.1,1026.4 1970.0,1029.9 1974.9,1025.0 1980.0,1019.9 1985.7,1025.9 1990.9,1035.9 1995.7,1035.9 2000.6,1024.4 2005.7,1019.3 2010.9,1026.4 2015.7,1027.3 2021.4,1025.3 2026.3,1036.4 2031.4,1049.3 2036.6,1039.3 2042.3,1020.7 2047.1,1014.7 2052.9,1019.3 2058.6,1024.1 2064.3,1028.7 2069.1,1033.0 2074.3,1035.6 2078.6,1036.4 2083.4,1035.0 2088.6,1025.9 2093.7,1013.6 2099.4,1005.0 2103.7,1004.7 2108.6,1008.7 2112.3,1012.7" fill="none" stroke="#404040" stroke-width="2" stroke-linejoin="round"/>
<polyline points="304.3,1140.4 310.0,1142.7 316.6,1145.0 322.9,1147.0 328.0,1143.3 333.7,1135.0 339.4,1128.4 344.3,1127.9 350.0,1132.7 357.1,1139.0 363.4,1144.7 369.1,1149.9 374.9,1147.6 380.6,1137.9 385.7,1130.7 390.9,1126.4 395.7,1126.4 400.6,1132.1 405.7,1142.7 411.4,1147.6 416.6,1144.7 422.3,1137.3 427.1,1132.1 432.0,1130.4 437.1,1132.1 442.9,1138.4 448.6,1145.0 454.3,1148.4 458.6,1147.6 463.4,1144.1 469.1,1136.1 474.3,1130.4 478.6,1128.4 484.3,1131.9 490.0,1136.1 494.9,1139.9 500.0,1141.9 505.7,1140.4 511.4,1137.9 517.7,1137.9 524.3,1139.0 530.0,1137.9 536.6,1134.1 542.9,1132.1 548.0,1133.6 554.3,1137.9 560.6,1139.9 567.1,1139.9 573.7,1139.0 579.4,1135.6 585.7,1131.9 590.9,1132.7 596.6,1138.4 602.3,1145.6 608.0,1150.7 612.9,1150.7 617.7,1146.1 622.9,1139.9 628.6,1134.1 632.9,1134.1 638.6,1141.3 644.3,1151.9 649.1,1154.1 653.7,1152.7 658.6,1148.4 664.3,1139.9 670.0,1129.9 674.9,1121.3 680.0,1118.4 684.3,1119.3 689.1,1121.9 694.3,1118.4 699.4,1107.0 705.1,1094.1 710.9,1104.1 715.7,1129.9 720.6,1155.6 725.7,1169.9 730.9,1174.1 735.7,1173.9 741.4,1168.4 747.1,1158.4 752.9,1148.4 758.6,1141.3 764.3,1131.3 769.1,1121.9 773.7,1117.9 778.6,1119.0 783.4,1124.1 788.6,1133.6 793.7,1144.1 799.4,1148.4 805.1,1147.0 810.0,1143.3 814.3,1140.4 818.6,1144.1 824.3,1158.4 829.4,1171.3 834.9,1164.7 840.0,1147.0 845.7,1136.1 850.9,1132.7 855.7,1125.6 861.4,1110.4 865.7,1097.0 870.9,1092.1 875.7,1101.3 881.4,1119.9 887.1,1141.3 892.0,1155.6 897.1,1153.6 902.3,1139.0 907.1,1125.0 912.0,1123.6 917.1,1132.1 922.9,1152.7 928.6,1178.4 930.0,1181.3 932.9,1188.4 938.0,1178.4 942.9,1155.6 947.7,1129.9 952.9,1111.3 958.6,1106.4 963.7,1118.4 968.6,1135.6 973.4,1149.3 979.1,1152.1 984.3,1145.6 990.0,1134.1 995.7,1125.6 1001.4,1117.0 1005.7,1113.3 1010.6,1112.1 1015.7,1127.0 1020.9,1155.6 1025.7,1188.4 1030.6,1199.9 1035.7,1184.1 1040.9,1149.9 1045.7,1117.0 1051.4,1095.6 1056.6,1091.9 1061.4,1101.3 1066.6,1115.6 1071.4,1127.9 1077.1,1130.4 1082.3,1131.3 1087.1,1138.4 1092.9,1148.4 1098.0,1149.0 1102.9,1137.9 1108.6,1127.9 1113.4,1132.7 1118.6,1149.9 1123.7,1167.0 1129.1,1171.9 1134.3,1164.7 1139.1,1147.0 1144.9,1127.0 1150.0,1115.0 1154.3,1115.6 1160.0,1122.7 1165.7,1128.4 1170.6,1133.3 1175.7,1144.1 1180.9,1152.7 1185.7,1151.3 1191.4,1142.7 1197.1,1134.1 1202.0,1128.4 1207.1,1124.7 1212.3,1125.0 1217.1,1134.1 1222.0,1144.1 1227.7,1146.4 1232.9,1138.4 1238.0,1127.0 1242.9,1121.3 1247.7,1126.1 1252.9,1141.3 1258.0,1154.1 1263.7,1159.0 1268.6,1157.9 1274.3,1153.3 1280.0,1149.0 1284.9,1147.0 1289.4,1144.1 1294.3,1135.6 1299.1,1125.9 1304.3,1125.6 1310.0,1134.1 1315.7,1138.4 1321.4,1137.9 1326.6,1137.0 1331.4,1137.6 1335.7,1136.1 1341.4,1130.4 1346.6,1126.4 1352.3,1127.9 1357.1,1130.7 1362.9,1131.9 1368.6,1131.6 1374.3,1132.1 1380.0,1133.6 1385.7,1133.9 1391.4,1131.9 1397.1,1129.0 1402.0,1129.3 1407.1,1135.6 1412.9,1147.0 1418.6,1158.4 1423.7,1163.3 1429.4,1164.7 1434.3,1162.1 1440.0,1156.4 1445.7,1151.3 1452.9,1147.0 1458.6,1141.3 1464.9,1133.6 1470.0,1127.9 1475.7,1128.4 1480.9,1137.0 1485.7,1147.6 1490.6,1153.6 1495.7,1147.9 1500.9,1135.6 1506.6,1122.7 1512.3,1116.4 1517.1,1116.1 1522.0,1119.3 1527.1,1127.0 1532.3,1138.4 1537.1,1149.9 1542.3,1153.6 1547.7,1147.0 1552.9,1135.6 1558.0,1123.6 1560.0,1119.9 1562.9,1117.9 1568.0,1122.7 1573.7,1132.7 1579.4,1140.7 1585.1,1147.0 1590.0,1152.7 1594.9,1156.1 1599.4,1154.1 1604.3,1144.7 1610.0,1132.7 1615.7,1127.0 1620.0,1127.6 1625.7,1132.7 1631.4,1139.0 1636.6,1144.1 1641.4,1145.9 1646.3,1141.9 1651.4,1133.6 1656.6,1125.6 1661.4,1122.1 1666.3,1121.3 1672.0,1122.7 1677.7,1126.4 1685.7,1131.3 1692.9,1137.9 1697.7,1141.3 1702.9,1139.0 1707.7,1137.6 1712.9,1143.3 1718.6,1147.6 1724.3,1147.6 1729.1,1145.6 1733.7,1145.9 1738.6,1150.7 1744.3,1155.6 1748.6,1155.6 1754.3,1150.4 1760.0,1142.7 1765.1,1136.4 1770.9,1131.9 1777.1,1131.9 1782.9,1133.3 1790.0,1134.4 1795.7,1137.0 1801.4,1136.4 1808.6,1135.3 1814.3,1137.3 1820.0,1140.7 1825.7,1144.1 1831.4,1146.7 1836.6,1142.1 1841.4,1133.6 1847.1,1127.6 1852.9,1124.1 1857.7,1124.1 1862.3,1129.9 1867.1,1138.4 1872.9,1144.1 1877.7,1145.6 1883.4,1144.1 1888.6,1139.0 1893.7,1133.3 1899.4,1129.3 1905.1,1130.7 1910.9,1133.6 1917.1,1138.4 1922.9,1142.7 1928.6,1144.4 1933.7,1142.7 1939.4,1138.4 1945.1,1133.6 1950.9,1130.4 1955.7,1131.6 1961.4,1138.4 1966.3,1142.7 1971.4,1141.9 1977.1,1137.6 1982.3,1136.4 1988.6,1138.4 1994.3,1139.3 2002.3,1139.0 2008.0,1141.3 2014.3,1143.6 2020.0,1143.3 2026.3,1143.6 2031.4,1145.6 2037.1,1147.0 2042.9,1145.6 2048.6,1141.9 2054.3,1139.0 2060.0,1139.0 2065.7,1139.0 2071.4,1136.7 2077.7,1134.1 2082.9,1134.4 2089.1,1135.0 2094.9,1132.1 2100.0,1128.4 2105.7,1127.9 2112.3,1130.7" fill="none" stroke="#404040" stroke-width="2" stroke-linejoin="round"/>
<polyline points="304.3,1251.0 308.6,1250.4 314.3,1252.7 320.0,1254.1 325.7,1252.7 331.4,1248.1 337.1,1243.9 342.9,1241.9 347.1,1242.4 352.9,1244.7 360.0,1249.0 368.6,1253.3 377.1,1255.3 385.7,1255.6 391.4,1253.3 398.6,1249.0 405.7,1246.1 411.4,1245.6 417.1,1247.0 424.3,1249.3 430.0,1249.9 437.1,1248.4 445.7,1247.9 454.3,1248.1 460.0,1250.4 465.1,1252.7 470.9,1254.1 476.6,1251.9 482.9,1248.4 488.6,1246.1 493.7,1246.1 498.6,1249.0 504.3,1253.3 511.4,1254.1 521.4,1254.7 528.6,1251.9 535.7,1249.0 542.9,1248.1 551.4,1249.6 560.0,1249.9 568.6,1249.9 575.7,1251.9 582.9,1251.0 588.6,1250.4 594.3,1252.4 601.4,1253.3 608.6,1252.4 617.1,1251.9 624.3,1249.9 631.4,1248.1 640.0,1249.0 645.7,1247.0 651.4,1246.1 658.6,1247.0 664.3,1244.7 671.4,1241.0 677.1,1241.9 684.3,1243.6 691.4,1245.0 698.6,1246.4 703.4,1248.1 708.0,1251.9 712.9,1256.1 717.7,1257.6 722.9,1259.6 728.6,1266.1 733.7,1272.7 738.6,1276.7 744.3,1273.3 748.6,1263.3 754.3,1246.1 760.0,1234.7 765.7,1229.9 770.9,1231.0 775.7,1231.9 780.0,1229.9 785.7,1226.7 790.0,1228.1 794.9,1234.7 800.6,1244.1 806.3,1249.0 811.4,1253.3 817.1,1264.7 822.3,1286.1 827.1,1311.9 832.0,1309.9 837.1,1273.3 842.3,1240.4 848.0,1231.9 852.9,1240.4 857.7,1241.9 862.3,1236.7 868.0,1230.4 872.9,1226.1 878.6,1224.1 883.4,1228.1 888.6,1239.0 894.3,1253.9 899.4,1260.4 904.3,1255.3 910.0,1249.0 915.7,1246.1 921.4,1248.1 927.1,1248.1 930.0,1247.6 935.1,1245.6 940.9,1249.0 945.7,1256.7 951.4,1262.4 956.3,1261.3 960.9,1260.4 966.6,1264.1 971.4,1266.7 976.3,1264.1 981.4,1253.3 987.1,1240.4 992.9,1234.7 998.0,1236.7 1003.7,1242.4 1009.4,1247.6 1015.1,1253.3 1020.9,1259.6 1025.7,1264.1 1029.4,1265.3 1033.4,1263.3 1038.6,1251.9 1043.7,1233.9 1048.6,1218.1 1054.3,1214.7 1060.0,1226.1 1064.3,1237.6 1070.0,1249.9 1075.1,1254.1 1080.0,1253.3 1085.7,1246.1 1091.4,1241.9 1098.6,1256.1 1102.9,1270.4 1106.6,1281.9 1111.4,1286.1 1116.3,1277.6 1121.4,1264.7 1126.6,1252.7 1131.4,1246.1 1136.6,1247.6 1142.0,1250.4 1147.1,1248.1 1152.3,1243.9 1157.1,1241.3 1162.9,1241.9 1169.4,1244.1 1175.1,1246.7 1180.9,1249.0 1185.7,1249.9 1192.3,1248.1 1198.6,1245.6 1204.3,1249.0 1209.4,1256.1 1214.9,1262.4 1220.0,1261.9 1225.7,1253.3 1231.4,1246.1 1236.3,1243.9 1244.3,1242.7 1251.4,1242.4 1258.6,1243.6 1264.3,1244.1 1270.0,1243.3 1276.3,1243.6 1281.4,1247.0 1287.1,1255.3 1292.3,1261.0 1297.1,1260.4 1302.0,1251.9 1307.1,1243.9 1312.9,1240.4 1318.6,1241.9 1324.3,1243.3 1331.4,1243.3 1337.1,1245.3 1343.7,1248.1 1350.0,1250.4 1355.7,1254.7 1362.0,1260.4 1367.1,1263.3 1373.4,1264.7 1379.1,1263.3 1385.7,1260.4 1391.4,1259.0 1396.3,1256.1 1401.4,1246.1 1406.6,1234.7 1411.4,1228.1 1416.6,1230.4 1422.0,1236.1 1427.7,1240.4 1432.3,1243.9 1437.1,1249.9 1442.9,1259.0 1448.6,1269.0 1453.4,1276.1 1458.0,1281.3 1462.0,1282.4 1467.1,1277.6 1472.9,1269.0 1478.0,1260.4 1484.3,1253.3 1490.6,1250.4 1497.1,1245.3 1502.9,1239.9 1508.6,1234.7 1515.1,1230.4 1520.9,1226.1 1527.7,1224.1 1533.4,1226.1 1539.1,1231.3 1544.9,1236.7 1550.6,1241.0 1557.1,1242.7 1560.0,1244.7 1565.7,1249.0 1571.4,1255.6 1577.1,1259.9 1584.3,1260.4 1592.9,1261.3 1602.9,1261.9 1608.0,1262.4 1612.0,1261.9 1617.1,1255.6 1622.9,1246.1 1628.6,1241.0 1634.3,1239.6 1638.6,1239.9 1644.3,1243.9 1650.0,1248.1 1655.7,1249.9 1661.4,1249.0 1667.1,1247.0 1674.3,1246.1 1680.0,1248.4 1685.7,1251.3 1691.4,1252.4 1698.6,1251.9 1705.7,1250.4 1711.4,1249.0 1715.7,1249.9 1721.4,1255.6 1727.1,1260.4 1732.9,1261.3 1741.4,1260.4 1747.1,1257.6 1752.9,1253.9 1757.1,1253.3 1762.9,1256.1 1768.6,1259.0 1775.7,1261.0 1781.4,1263.3 1787.1,1263.9 1792.0,1261.9 1798.6,1257.0 1805.1,1252.7 1810.9,1249.0 1816.6,1243.3 1822.9,1233.9 1829.1,1224.7 1834.3,1220.4 1841.4,1218.4 1845.7,1218.4 1850.0,1219.6 1854.9,1227.6 1860.0,1241.3 1865.1,1248.1 1870.9,1240.4 1875.7,1233.9 1881.4,1240.4 1885.7,1253.3 1891.4,1265.3 1897.1,1269.6 1901.4,1270.7 1906.3,1268.4 1912.0,1265.9 1922.3,1265.9 1931.4,1263.3 1941.4,1259.9 1948.6,1260.1 1954.9,1260.4 1960.0,1258.4 1967.1,1254.7 1974.3,1252.4 1982.9,1250.1 1992.9,1248.4 1999.4,1246.1 2005.7,1241.9 2011.4,1237.0 2016.6,1233.3 2022.9,1231.3 2030.0,1229.9 2035.7,1231.3 2041.4,1237.6 2046.3,1242.7 2051.4,1244.1 2056.6,1244.1 2061.4,1246.7 2067.1,1253.3 2072.9,1259.0 2077.7,1260.7 2082.9,1259.0 2088.6,1256.7 2094.3,1256.1 2100.0,1257.0 2105.7,1257.0 2112.3,1256.4" fill="none" stroke="#404040" stroke-width="2" stroke-linejoin="round"/>
<polyline points="304.3,1360.1 311.4,1361.3 320.0,1362.4 327.1,1363.9 332.9,1364.1 338.6,1362.4 345.7,1360.1 352.9,1358.7 360.0,1359.0 368.6,1361.0 375.7,1362.4 381.4,1362.4 387.1,1360.4 392.9,1358.7 398.6,1359.6 405.7,1362.4 412.9,1364.7 418.6,1363.9 425.7,1361.9 432.9,1362.4 440.0,1364.1 447.1,1365.3 452.9,1367.6 458.6,1368.7 464.3,1365.9 470.9,1362.4 477.1,1361.6 482.9,1363.3 488.6,1366.7 495.7,1370.4 502.9,1370.7 510.0,1369.6 517.1,1369.3 525.7,1370.1 532.9,1371.0 540.0,1371.6 545.7,1371.0 550.0,1369.6 554.3,1362.4 558.6,1343.9 564.3,1328.1 570.0,1316.7 575.7,1309.6 582.9,1305.3 589.1,1301.0 594.3,1303.0 598.6,1313.9 602.9,1331.0 607.1,1351.0 611.4,1376.7 615.7,1399.6 620.6,1419.0 625.7,1423.9 630.9,1417.3 636.6,1411.6 641.4,1412.4 646.6,1416.7 651.4,1418.1 657.1,1415.3 662.3,1406.7 667.1,1388.1 672.0,1362.4 676.6,1336.7 681.4,1318.1 687.1,1317.6 692.9,1323.9 697.1,1323.3 702.3,1316.7 708.0,1313.3 712.9,1322.4 717.1,1339.6 721.4,1362.4 725.7,1383.9 729.1,1394.7 733.7,1399.6 739.4,1388.1 744.3,1371.0 750.0,1352.4 755.7,1338.1 760.6,1329.6 765.7,1324.7 770.9,1329.0 775.7,1341.0 780.6,1359.0 785.7,1375.3 790.9,1383.3 795.7,1379.6 800.6,1371.0 806.3,1371.0 811.4,1382.4 817.1,1393.3 822.3,1396.7 828.0,1392.4 832.9,1381.0 837.7,1366.7 842.9,1354.4 848.0,1350.1 852.9,1358.1 858.0,1368.1 862.9,1363.0 867.1,1348.1 871.4,1333.3 876.6,1329.0 881.4,1339.6 887.1,1353.9 892.9,1368.1 897.7,1378.1 902.9,1379.0 908.0,1369.6 914.3,1362.4 919.4,1369.6 924.3,1388.1 928.6,1396.1 930.0,1400.1 935.1,1385.3 940.0,1359.6 945.7,1321.9 950.9,1316.7 955.7,1332.4 961.4,1351.0 966.6,1356.1 972.3,1357.6 977.1,1361.9 982.3,1365.9 987.1,1363.9 992.3,1361.9 998.0,1363.9 1003.7,1365.3 1008.6,1365.9 1013.4,1369.0 1018.6,1376.7 1023.7,1386.1 1028.6,1387.6 1033.4,1381.9 1039.1,1372.4 1044.9,1362.4 1050.0,1350.1 1054.9,1337.3 1060.0,1329.6 1064.9,1333.3 1070.0,1345.9 1075.1,1354.4 1080.0,1350.4 1085.7,1341.6 1090.6,1346.1 1095.7,1363.9 1100.9,1382.4 1105.7,1393.9 1111.4,1403.9 1116.3,1410.1 1121.4,1405.9 1126.6,1386.7 1131.4,1365.3 1136.3,1348.1 1142.0,1341.6 1146.6,1340.1 1152.3,1334.4 1158.0,1326.7 1162.9,1327.3 1167.7,1339.6 1172.9,1358.1 1178.6,1376.7 1183.7,1384.7 1188.6,1383.9 1194.3,1370.4 1199.4,1358.1 1204.3,1353.0 1209.4,1353.3 1214.3,1358.7 1219.4,1361.9 1224.3,1358.4 1229.4,1357.6 1235.1,1366.7 1240.0,1374.4 1245.1,1377.6 1250.0,1372.4 1255.7,1366.7 1260.9,1366.7 1266.6,1371.0 1271.4,1371.6 1277.1,1365.3 1282.0,1356.7 1287.1,1351.9 1292.3,1352.4 1297.1,1355.3 1302.0,1356.7 1307.1,1355.3 1312.9,1351.0 1318.0,1345.9 1322.9,1343.3 1328.6,1347.6 1334.3,1353.9 1340.0,1355.9 1344.9,1356.7 1350.0,1361.9 1355.1,1371.0 1360.0,1379.6 1364.3,1382.4 1369.4,1378.1 1374.3,1368.1 1380.0,1360.1 1385.7,1356.7 1390.6,1356.7 1395.7,1359.6 1401.4,1367.6 1406.6,1375.3 1411.4,1379.6 1416.3,1379.6 1421.4,1375.9 1427.1,1368.1 1432.9,1359.6 1438.6,1351.6 1444.3,1346.7 1449.4,1342.4 1454.3,1339.6 1459.1,1341.0 1464.3,1349.6 1469.4,1365.3 1474.3,1376.7 1479.1,1381.0 1484.9,1380.7 1491.4,1379.6 1497.1,1377.6 1502.0,1372.4 1507.1,1363.9 1512.9,1355.3 1518.0,1354.4 1523.7,1360.1 1529.4,1367.6 1535.1,1371.9 1540.0,1372.4 1545.7,1366.7 1551.4,1359.6 1557.1,1353.9 1560.0,1352.4 1566.3,1347.3 1571.4,1341.6 1576.6,1335.9 1581.4,1332.7 1586.3,1336.7 1591.4,1346.7 1596.6,1355.3 1602.3,1360.1 1608.6,1361.0 1615.7,1359.9 1624.3,1358.4 1630.0,1360.4 1637.1,1363.3 1644.3,1366.7 1650.0,1369.6 1654.3,1371.0 1659.4,1370.7 1664.3,1369.0 1670.0,1369.0 1674.9,1371.6 1680.0,1376.1 1685.7,1380.1 1690.0,1381.9 1694.9,1380.1 1700.6,1376.1 1706.3,1371.9 1711.4,1370.4 1718.6,1371.0 1725.7,1370.4 1734.3,1368.7 1741.4,1363.9 1747.1,1358.1 1752.9,1354.4 1760.0,1351.6 1765.7,1348.1 1772.0,1345.3 1777.1,1345.9 1782.9,1349.0 1788.6,1352.4 1794.3,1354.4 1798.6,1354.1 1804.3,1351.6 1809.1,1349.6 1814.3,1351.0 1820.0,1355.3 1825.1,1357.6 1832.9,1359.6 1838.6,1362.4 1845.7,1366.7 1850.9,1371.6 1855.7,1377.3 1860.6,1381.6 1865.1,1381.3 1870.9,1376.7 1876.6,1371.9 1882.9,1367.6 1890.0,1364.7 1900.0,1362.4 1910.9,1360.4 1917.1,1356.7 1923.4,1351.0 1928.6,1348.7 1932.9,1349.3 1938.6,1353.0 1944.3,1357.3 1950.0,1360.4 1957.1,1363.3 1963.4,1365.9 1968.6,1365.9 1974.3,1364.7 1980.0,1365.6 1987.1,1367.3 1995.7,1367.9 2001.4,1367.0 2007.1,1365.3 2012.9,1364.4 2018.6,1366.1 2025.7,1366.7 2030.9,1362.4 2036.6,1355.6 2041.4,1351.6 2047.1,1350.4 2052.9,1351.0 2061.4,1353.3 2068.6,1355.0 2077.1,1356.7 2084.3,1359.0 2090.9,1360.4 2096.6,1362.4 2102.9,1364.1 2112.3,1364.7" fill="none" stroke="#404040" stroke-width="2" stroke-linejoin="round"/>
<text transform="translate(325,227.60) scale(0.974,1)" font-size="42.8" fill="#000">607700195 | 1.00</text>
<text transform="translate(325,339.70) scale(0.974,1)" font-size="42.8" fill="#000">1500035 | 0.92</text>
<text transform="translate(325,451.80) scale(0.974,1)" font-size="42.8" fill="#000">1501317 | 0.89</text>
<text transform="translate(325,563.90) scale(0.974,1)" font-size="42.8" fill="#000">1501576 | 0.87</text>
<text transform="translate(325,676.00) scale(0.974,1)" font-size="42.8" fill="#000">1501599 | 0.82</text>
<text transform="translate(325,788.10) scale(0.974,1)" font-size="42.8" fill="#000">1501594 | 0.79</text>
<text transform="translate(325,900.20) scale(0.974,1)" font-size="42.8" fill="#000">1327685 | 0.77</text>
<text transform="translate(325,1012.30) scale(0.974,1)" font-size="42.8" fill="#000">1345726 | 0.76</text>
<text transform="translate(325,1124.40) scale(0.974,1)" font-size="42.8" fill="#000">1340266 | 0.75</text>
<text transform="translate(325,1236.50) scale(0.974,1)" font-size="42.8" fill="#000">1507530 | 0.73</text>
<text transform="translate(325,1348.60) scale(0.974,1)" font-size="42.8" fill="#000">1338361 | 0.73</text>
<rect x="661.7" y="213.0" width="8" height="56" fill="#ff0000"/>
<rect x="1312.5" y="213.0" width="8" height="56" fill="#00e000"/>
<rect x="682.7" y="325.1" width="8" height="56" fill="#ff0000"/>
<rect x="1037.9" y="325.1" width="8" height="56" fill="#00e000"/>
<rect x="694.1" y="437.2" width="8" height="56" fill="#ff0000"/>
<rect x="1058.6" y="437.2" width="8" height="56" fill="#00e000"/>
<rect x="691.4" y="549.3" width="8" height="56" fill="#ff0000"/>
<rect x="1055.1" y="549.3" width="8" height="56" fill="#00e000"/>
<rect x="697.1" y="661.4" width="8" height="56" fill="#ff0000"/>
<rect x="1057.7" y="661.4" width="8" height="56" fill="#00e000"/>
<rect x="693.4" y="773.5" width="8" height="56" fill="#ff0000"/>
<rect x="1073.7" y="773.5" width="8" height="56" fill="#00e000"/>
<rect x="676.3" y="885.6" width="8" height="56" fill="#ff0000"/>
<rect x="1040.1" y="885.6" width="8" height="56" fill="#00e000"/>
<rect x="700.0" y="997.7" width="8" height="56" fill="#ff0000"/>
<rect x="1043.4" y="997.7" width="8" height="56" fill="#00e000"/>
<rect x="634.3" y="1109.8" width="8" height="56" fill="#ff0000"/>
<rect x="985.1" y="1109.8" width="8" height="56" fill="#00e000"/>
<rect x="724.9" y="1221.9" width="8" height="56" fill="#ff0000"/>
<rect x="1090.9" y="1221.9" width="8" height="56" fill="#00e000"/>
<rect x="549.3" y="1334.0" width="8" height="56" fill="#ff0000"/>
<rect x="939.0" y="1334.0" width="8" height="56" fill="#00e000"/>
<rect x="304.3" y="129.2" width="1808.1000000000001" height="1429.3" fill="none" stroke="#262626" stroke-width="2"/>
<path d="M458.9,1558.5V1539.5M458.9,129.2V148.2M665.6,1558.5V1539.5M665.6,129.2V148.2M872.3,1558.5V1539.5M872.3,129.2V148.2M1079.0,1558.5V1539.5M1079.0,129.2V148.2M1285.7,1558.5V1539.5M1285.7,129.2V148.2M1492.4,1558.5V1539.5M1492.4,129.2V148.2M1699.1,1558.5V1539.5M1699.1,129.2V148.2M1905.8,1558.5V1539.5M1905.8,129.2V148.2M2112.5,1558.5V1539.5M2112.5,129.2V148.2M304.3,353.4H323.3M2112.4,353.4H2093.4M304.3,633.4H323.3M2112.4,633.4H2093.4M304.3,913.4H323.3M2112.4,913.4H2093.4M304.3,1193.4H323.3M2112.4,1193.4H2093.4" stroke="#262626" stroke-width="2" fill="none"/>
<text x="458.9" y="1617.4" text-anchor="middle" font-size="42" fill="#262626">-0.2</text>
<text x="665.6" y="1617.4" text-anchor="middle" font-size="42" fill="#262626">0</text>
<text x="872.3" y="1617.4" text-anchor="middle" font-size="42" fill="#262626">0.2</text>
<text x="1079.0" y="1617.4" text-anchor="middle" font-size="42" fill="#262626">0.4</text>
<text x="1285.7" y="1617.4" text-anchor="middle" font-size="42" fill="#262626">0.6</text>
<text x="1492.4" y="1617.4" text-anchor="middle" font-size="42" fill="#262626">0.8</text>
<text x="1699.1" y="1617.4" text-anchor="middle" font-size="42" fill="#262626">1</text>
<text x="1905.8" y="1617.4" text-anchor="middle" font-size="42" fill="#262626">1.2</text>
<text x="2112.5" y="1617.4" text-anchor="middle" font-size="42" fill="#262626">1.4</text>
</svg>
</body></html>
